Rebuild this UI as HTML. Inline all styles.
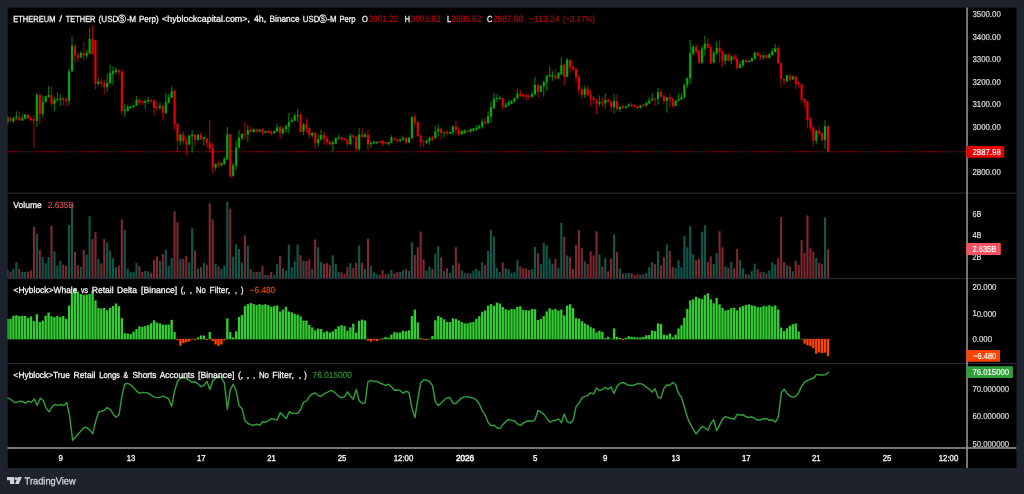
<!DOCTYPE html>
<html><head><meta charset="utf-8"><title>ETHUSDT.P chart</title>
<style>html,body{margin:0;padding:0;background:#1e222d;overflow:hidden}svg{display:block}text{font-family:"Liberation Sans", "DejaVu Sans", sans-serif;white-space:pre}</style>
</head><body>
<svg width="1024" height="494" viewBox="0 0 1024 494">
<rect x="0" y="0" width="1024" height="494" fill="#1e222d"/>
<rect x="7.5" y="7.6" width="1008.9" height="460.4" fill="#000"/>
<line x1="8" y1="151.7" x2="967" y2="151.7" stroke="#b40000" stroke-width="1.15" stroke-dasharray="1.15 0.95"/>
<g id="volume"><rect x="6.51" y="269.69" width="2.1" height="8.31" fill="#0e594c"/><rect x="9.44" y="271.7" width="2.1" height="6.3" fill="#7e2830"/><rect x="12.37" y="268.82" width="2.1" height="9.18" fill="#0e594c"/><rect x="15.3" y="262.17" width="2.1" height="15.83" fill="#0e594c"/><rect x="18.23" y="268.82" width="2.1" height="9.18" fill="#7e2830"/><rect x="21.16" y="271.7" width="2.1" height="6.3" fill="#0e594c"/><rect x="24.09" y="271.95" width="2.1" height="6.05" fill="#0e594c"/><rect x="27.02" y="271.7" width="2.1" height="6.3" fill="#7e2830"/><rect x="29.95" y="270.45" width="2.1" height="7.55" fill="#7e2830"/><rect x="32.88" y="226.78" width="2.1" height="51.22" fill="#7e2830"/><rect x="35.81" y="233.68" width="2.1" height="44.32" fill="#0e594c"/><rect x="38.74" y="249.99" width="2.1" height="28.01" fill="#7e2830"/><rect x="41.67" y="257.15" width="2.1" height="20.85" fill="#0e594c"/><rect x="44.6" y="263.17" width="2.1" height="14.83" fill="#0e594c"/><rect x="47.53" y="257.15" width="2.1" height="20.85" fill="#0e594c"/><rect x="50.46" y="225.78" width="2.1" height="52.22" fill="#7e2830"/><rect x="53.39" y="251.25" width="2.1" height="26.75" fill="#0e594c"/><rect x="56.32" y="265.68" width="2.1" height="12.32" fill="#0e594c"/><rect x="59.25" y="260.66" width="2.1" height="17.34" fill="#0e594c"/><rect x="62.18" y="264.68" width="2.1" height="13.32" fill="#7e2830"/><rect x="65.11" y="265.68" width="2.1" height="12.32" fill="#7e2830"/><rect x="68.04" y="224.9" width="2.1" height="53.1" fill="#0e594c"/><rect x="70.97" y="203.75" width="2.1" height="74.25" fill="#0e594c"/><rect x="73.9" y="251.63" width="2.1" height="26.37" fill="#7e2830"/><rect x="76.83" y="265.05" width="2.1" height="12.95" fill="#7e2830"/><rect x="79.76" y="266.93" width="2.1" height="11.07" fill="#0e594c"/><rect x="82.69" y="249.99" width="2.1" height="28.01" fill="#7e2830"/><rect x="85.62" y="254.64" width="2.1" height="23.36" fill="#0e594c"/><rect x="88.55" y="216.25" width="2.1" height="61.75" fill="#0e594c"/><rect x="91.48" y="239.08" width="2.1" height="38.92" fill="#7e2830"/><rect x="94.41" y="232.05" width="2.1" height="45.95" fill="#7e2830"/><rect x="97.34" y="258.78" width="2.1" height="19.22" fill="#0e594c"/><rect x="100.27" y="263.42" width="2.1" height="14.58" fill="#7e2830"/><rect x="103.2" y="239.08" width="2.1" height="38.92" fill="#7e2830"/><rect x="106.13" y="242.47" width="2.1" height="35.53" fill="#0e594c"/><rect x="109.06" y="250.87" width="2.1" height="27.13" fill="#0e594c"/><rect x="111.99" y="258.15" width="2.1" height="19.85" fill="#0e594c"/><rect x="114.92" y="267.18" width="2.1" height="10.82" fill="#0e594c"/><rect x="117.85" y="265.68" width="2.1" height="12.32" fill="#7e2830"/><rect x="120.78" y="219.25" width="2.1" height="58.75" fill="#7e2830"/><rect x="123.71" y="229.92" width="2.1" height="48.08" fill="#0e594c"/><rect x="126.64" y="268.82" width="2.1" height="9.18" fill="#0e594c"/><rect x="129.57" y="272.2" width="2.1" height="5.8" fill="#0e594c"/><rect x="132.5" y="271.95" width="2.1" height="6.05" fill="#0e594c"/><rect x="135.43" y="262.92" width="2.1" height="15.08" fill="#0e594c"/><rect x="138.36" y="265.93" width="2.1" height="12.07" fill="#7e2830"/><rect x="141.29" y="271.95" width="2.1" height="6.05" fill="#7e2830"/><rect x="144.22" y="270.95" width="2.1" height="7.05" fill="#0e594c"/><rect x="147.15" y="271.32" width="2.1" height="6.68" fill="#0e594c"/><rect x="150.08" y="272.83" width="2.1" height="5.17" fill="#7e2830"/><rect x="153.01" y="260.03" width="2.1" height="17.97" fill="#7e2830"/><rect x="155.94" y="256.27" width="2.1" height="21.73" fill="#7e2830"/><rect x="158.87" y="260.91" width="2.1" height="17.09" fill="#0e594c"/><rect x="161.8" y="254.14" width="2.1" height="23.86" fill="#7e2830"/><rect x="164.73" y="249.99" width="2.1" height="28.01" fill="#0e594c"/><rect x="167.66" y="265.68" width="2.1" height="12.32" fill="#0e594c"/><rect x="170.59" y="257.9" width="2.1" height="20.1" fill="#0e594c"/><rect x="173.52" y="211.25" width="2.1" height="66.75" fill="#7e2830"/><rect x="176.45" y="222.39" width="2.1" height="55.61" fill="#7e2830"/><rect x="179.38" y="258.78" width="2.1" height="19.22" fill="#0e594c"/><rect x="182.31" y="258.78" width="2.1" height="19.22" fill="#7e2830"/><rect x="185.24" y="256.02" width="2.1" height="21.98" fill="#7e2830"/><rect x="188.17" y="262.17" width="2.1" height="15.83" fill="#0e594c"/><rect x="191.1" y="228.29" width="2.1" height="49.71" fill="#0e594c"/><rect x="194.03" y="250.25" width="2.1" height="27.75" fill="#7e2830"/><rect x="196.96" y="268.82" width="2.1" height="9.18" fill="#0e594c"/><rect x="199.89" y="267.18" width="2.1" height="10.82" fill="#7e2830"/><rect x="202.82" y="262.92" width="2.1" height="15.08" fill="#0e594c"/><rect x="205.75" y="264.68" width="2.1" height="13.32" fill="#7e2830"/><rect x="208.68" y="203.25" width="2.1" height="74.75" fill="#7e2830"/><rect x="211.61" y="219.25" width="2.1" height="58.75" fill="#7e2830"/><rect x="214.54" y="264.05" width="2.1" height="13.95" fill="#0e594c"/><rect x="217.47" y="266.31" width="2.1" height="11.69" fill="#7e2830"/><rect x="220.4" y="268.82" width="2.1" height="9.18" fill="#0e594c"/><rect x="223.33" y="265.68" width="2.1" height="12.32" fill="#0e594c"/><rect x="226.26" y="202" width="2.1" height="76" fill="#0e594c"/><rect x="229.19" y="208.75" width="2.1" height="69.25" fill="#7e2830"/><rect x="232.12" y="256.64" width="2.1" height="21.36" fill="#0e594c"/><rect x="235.05" y="244.35" width="2.1" height="33.65" fill="#0e594c"/><rect x="237.98" y="248.99" width="2.1" height="29.01" fill="#0e594c"/><rect x="240.91" y="262.79" width="2.1" height="15.21" fill="#0e594c"/><rect x="243.84" y="235.31" width="2.1" height="42.69" fill="#7e2830"/><rect x="246.77" y="245.98" width="2.1" height="32.02" fill="#0e594c"/><rect x="249.7" y="269.07" width="2.1" height="8.93" fill="#7e2830"/><rect x="252.63" y="272.2" width="2.1" height="5.8" fill="#0e594c"/><rect x="255.56" y="271.95" width="2.1" height="6.05" fill="#7e2830"/><rect x="258.49" y="271.7" width="2.1" height="6.3" fill="#0e594c"/><rect x="261.42" y="266.06" width="2.1" height="11.94" fill="#7e2830"/><rect x="264.35" y="275.09" width="2.1" height="2.91" fill="#0e594c"/><rect x="267.28" y="275.21" width="2.1" height="2.79" fill="#7e2830"/><rect x="270.21" y="271.7" width="2.1" height="6.3" fill="#7e2830"/><rect x="273.14" y="275.09" width="2.1" height="2.91" fill="#0e594c"/><rect x="276.07" y="264.05" width="2.1" height="13.95" fill="#0e594c"/><rect x="279" y="255.89" width="2.1" height="22.11" fill="#7e2830"/><rect x="281.93" y="268.19" width="2.1" height="9.81" fill="#0e594c"/><rect x="284.86" y="270.7" width="2.1" height="7.3" fill="#0e594c"/><rect x="287.79" y="244.73" width="2.1" height="33.27" fill="#0e594c"/><rect x="290.72" y="267.18" width="2.1" height="10.82" fill="#0e594c"/><rect x="293.65" y="261.29" width="2.1" height="16.71" fill="#0e594c"/><rect x="296.58" y="244.73" width="2.1" height="33.27" fill="#0e594c"/><rect x="299.51" y="255.26" width="2.1" height="22.74" fill="#7e2830"/><rect x="302.44" y="260.91" width="2.1" height="17.09" fill="#0e594c"/><rect x="305.37" y="260.91" width="2.1" height="17.09" fill="#7e2830"/><rect x="308.3" y="259.41" width="2.1" height="18.59" fill="#7e2830"/><rect x="311.23" y="268.82" width="2.1" height="9.18" fill="#0e594c"/><rect x="314.16" y="239.33" width="2.1" height="38.67" fill="#7e2830"/><rect x="317.09" y="247.23" width="2.1" height="30.77" fill="#0e594c"/><rect x="320.02" y="261.91" width="2.1" height="16.09" fill="#0e594c"/><rect x="322.95" y="263.55" width="2.1" height="14.45" fill="#7e2830"/><rect x="325.88" y="263.17" width="2.1" height="14.83" fill="#7e2830"/><rect x="328.81" y="265.05" width="2.1" height="12.95" fill="#7e2830"/><rect x="331.74" y="255.26" width="2.1" height="22.74" fill="#0e594c"/><rect x="334.67" y="264.05" width="2.1" height="13.95" fill="#0e594c"/><rect x="337.6" y="271.95" width="2.1" height="6.05" fill="#0e594c"/><rect x="340.53" y="272.2" width="2.1" height="5.8" fill="#7e2830"/><rect x="343.46" y="274.09" width="2.1" height="3.91" fill="#7e2830"/><rect x="346.39" y="266.93" width="2.1" height="11.07" fill="#7e2830"/><rect x="349.32" y="263.17" width="2.1" height="14.83" fill="#0e594c"/><rect x="352.25" y="267.94" width="2.1" height="10.06" fill="#7e2830"/><rect x="355.18" y="262.79" width="2.1" height="15.21" fill="#7e2830"/><rect x="358.11" y="245.6" width="2.1" height="32.4" fill="#0e594c"/><rect x="361.04" y="262.79" width="2.1" height="15.21" fill="#7e2830"/><rect x="363.97" y="269.07" width="2.1" height="8.93" fill="#0e594c"/><rect x="366.9" y="238.7" width="2.1" height="39.3" fill="#7e2830"/><rect x="369.83" y="265.93" width="2.1" height="12.07" fill="#0e594c"/><rect x="372.76" y="272.33" width="2.1" height="5.67" fill="#0e594c"/><rect x="375.69" y="274.21" width="2.1" height="3.79" fill="#0e594c"/><rect x="378.62" y="274.71" width="2.1" height="3.29" fill="#7e2830"/><rect x="381.55" y="270.07" width="2.1" height="7.93" fill="#7e2830"/><rect x="384.48" y="274.09" width="2.1" height="3.91" fill="#7e2830"/><rect x="387.41" y="273.83" width="2.1" height="4.17" fill="#0e594c"/><rect x="390.34" y="269.82" width="2.1" height="8.18" fill="#0e594c"/><rect x="393.27" y="273.21" width="2.1" height="4.79" fill="#7e2830"/><rect x="396.2" y="272.2" width="2.1" height="5.8" fill="#7e2830"/><rect x="399.13" y="271.95" width="2.1" height="6.05" fill="#0e594c"/><rect x="402.06" y="270.07" width="2.1" height="7.93" fill="#0e594c"/><rect x="404.99" y="269.19" width="2.1" height="8.81" fill="#7e2830"/><rect x="407.92" y="270.95" width="2.1" height="7.05" fill="#0e594c"/><rect x="410.85" y="242.47" width="2.1" height="35.53" fill="#0e594c"/><rect x="413.78" y="255.01" width="2.1" height="22.99" fill="#7e2830"/><rect x="416.71" y="247.11" width="2.1" height="30.89" fill="#7e2830"/><rect x="419.64" y="231.55" width="2.1" height="46.45" fill="#7e2830"/><rect x="422.57" y="259.41" width="2.1" height="18.59" fill="#7e2830"/><rect x="425.5" y="270.45" width="2.1" height="7.55" fill="#0e594c"/><rect x="428.43" y="266.31" width="2.1" height="11.69" fill="#0e594c"/><rect x="431.36" y="268.94" width="2.1" height="9.06" fill="#7e2830"/><rect x="434.29" y="253.76" width="2.1" height="24.24" fill="#0e594c"/><rect x="437.22" y="246.23" width="2.1" height="31.77" fill="#0e594c"/><rect x="440.15" y="257.27" width="2.1" height="20.73" fill="#7e2830"/><rect x="443.08" y="271.07" width="2.1" height="6.93" fill="#0e594c"/><rect x="446.01" y="268.19" width="2.1" height="9.81" fill="#7e2830"/><rect x="448.94" y="272.83" width="2.1" height="5.17" fill="#0e594c"/><rect x="451.87" y="265.3" width="2.1" height="12.7" fill="#0e594c"/><rect x="454.8" y="247.23" width="2.1" height="30.77" fill="#7e2830"/><rect x="457.73" y="263.17" width="2.1" height="14.83" fill="#7e2830"/><rect x="460.66" y="270.45" width="2.1" height="7.55" fill="#0e594c"/><rect x="463.59" y="272.96" width="2.1" height="5.04" fill="#0e594c"/><rect x="466.52" y="273.21" width="2.1" height="4.79" fill="#7e2830"/><rect x="469.45" y="273.46" width="2.1" height="4.54" fill="#0e594c"/><rect x="472.38" y="270.7" width="2.1" height="7.3" fill="#0e594c"/><rect x="475.31" y="268.82" width="2.1" height="9.18" fill="#0e594c"/><rect x="478.24" y="270.95" width="2.1" height="7.05" fill="#0e594c"/><rect x="481.17" y="262.29" width="2.1" height="15.71" fill="#0e594c"/><rect x="484.1" y="265.05" width="2.1" height="12.95" fill="#7e2830"/><rect x="487.03" y="251" width="2.1" height="27" fill="#0e594c"/><rect x="489.96" y="229.92" width="2.1" height="48.08" fill="#0e594c"/><rect x="492.89" y="236.44" width="2.1" height="41.56" fill="#0e594c"/><rect x="495.82" y="267.81" width="2.1" height="10.19" fill="#0e594c"/><rect x="498.75" y="271.95" width="2.1" height="6.05" fill="#0e594c"/><rect x="501.68" y="262.29" width="2.1" height="15.71" fill="#7e2830"/><rect x="504.61" y="268.19" width="2.1" height="9.81" fill="#0e594c"/><rect x="507.54" y="269.44" width="2.1" height="8.56" fill="#0e594c"/><rect x="510.47" y="273.21" width="2.1" height="4.79" fill="#0e594c"/><rect x="513.4" y="272.2" width="2.1" height="5.8" fill="#0e594c"/><rect x="516.33" y="260.28" width="2.1" height="17.72" fill="#0e594c"/><rect x="519.26" y="266.56" width="2.1" height="11.44" fill="#7e2830"/><rect x="522.19" y="268.19" width="2.1" height="9.81" fill="#7e2830"/><rect x="525.12" y="268.44" width="2.1" height="9.56" fill="#7e2830"/><rect x="528.05" y="269.82" width="2.1" height="8.18" fill="#7e2830"/><rect x="530.98" y="269.19" width="2.1" height="8.81" fill="#0e594c"/><rect x="533.91" y="246.86" width="2.1" height="31.14" fill="#0e594c"/><rect x="536.84" y="253.13" width="2.1" height="24.87" fill="#7e2830"/><rect x="539.77" y="264.17" width="2.1" height="13.83" fill="#0e594c"/><rect x="542.7" y="243.09" width="2.1" height="34.91" fill="#0e594c"/><rect x="545.63" y="245.23" width="2.1" height="32.77" fill="#0e594c"/><rect x="548.56" y="258.4" width="2.1" height="19.6" fill="#0e594c"/><rect x="551.49" y="263.8" width="2.1" height="14.2" fill="#0e594c"/><rect x="554.42" y="258.78" width="2.1" height="19.22" fill="#7e2830"/><rect x="557.35" y="267.81" width="2.1" height="10.19" fill="#0e594c"/><rect x="560.28" y="223.02" width="2.1" height="54.98" fill="#0e594c"/><rect x="563.21" y="236.82" width="2.1" height="41.18" fill="#7e2830"/><rect x="566.14" y="255.39" width="2.1" height="22.61" fill="#0e594c"/><rect x="569.07" y="257.27" width="2.1" height="20.73" fill="#7e2830"/><rect x="572" y="269.07" width="2.1" height="8.93" fill="#7e2830"/><rect x="574.93" y="244.73" width="2.1" height="33.27" fill="#7e2830"/><rect x="577.86" y="230.17" width="2.1" height="47.83" fill="#7e2830"/><rect x="580.79" y="248.11" width="2.1" height="29.89" fill="#7e2830"/><rect x="583.72" y="261.29" width="2.1" height="16.71" fill="#0e594c"/><rect x="586.65" y="264.17" width="2.1" height="13.83" fill="#7e2830"/><rect x="589.58" y="251.25" width="2.1" height="26.75" fill="#7e2830"/><rect x="592.51" y="255.39" width="2.1" height="22.61" fill="#7e2830"/><rect x="595.44" y="231.17" width="2.1" height="46.83" fill="#7e2830"/><rect x="598.37" y="254.39" width="2.1" height="23.61" fill="#0e594c"/><rect x="601.3" y="266.56" width="2.1" height="11.44" fill="#7e2830"/><rect x="604.23" y="258.15" width="2.1" height="19.85" fill="#0e594c"/><rect x="607.16" y="271.32" width="2.1" height="6.68" fill="#7e2830"/><rect x="610.09" y="258.4" width="2.1" height="19.6" fill="#7e2830"/><rect x="613.02" y="234.56" width="2.1" height="43.44" fill="#0e594c"/><rect x="615.95" y="251.88" width="2.1" height="26.12" fill="#7e2830"/><rect x="618.88" y="268.44" width="2.1" height="9.56" fill="#0e594c"/><rect x="621.81" y="273.46" width="2.1" height="4.54" fill="#7e2830"/><rect x="624.74" y="273.46" width="2.1" height="4.54" fill="#0e594c"/><rect x="627.67" y="272.83" width="2.1" height="5.17" fill="#0e594c"/><rect x="630.6" y="273.21" width="2.1" height="4.79" fill="#7e2830"/><rect x="633.53" y="275.34" width="2.1" height="2.66" fill="#7e2830"/><rect x="636.46" y="274.21" width="2.1" height="3.79" fill="#7e2830"/><rect x="639.39" y="274.71" width="2.1" height="3.29" fill="#0e594c"/><rect x="642.32" y="274.21" width="2.1" height="3.79" fill="#7e2830"/><rect x="645.25" y="272.96" width="2.1" height="5.04" fill="#0e594c"/><rect x="648.18" y="267.18" width="2.1" height="10.82" fill="#0e594c"/><rect x="651.11" y="262.17" width="2.1" height="15.83" fill="#0e594c"/><rect x="654.04" y="264.05" width="2.1" height="13.95" fill="#7e2830"/><rect x="656.97" y="251.25" width="2.1" height="26.75" fill="#0e594c"/><rect x="659.9" y="265.3" width="2.1" height="12.7" fill="#7e2830"/><rect x="662.83" y="257.15" width="2.1" height="20.85" fill="#7e2830"/><rect x="665.76" y="244.35" width="2.1" height="33.65" fill="#0e594c"/><rect x="668.69" y="250.87" width="2.1" height="27.13" fill="#7e2830"/><rect x="671.62" y="266.93" width="2.1" height="11.07" fill="#7e2830"/><rect x="674.55" y="267.94" width="2.1" height="10.06" fill="#0e594c"/><rect x="677.48" y="260.28" width="2.1" height="17.72" fill="#0e594c"/><rect x="680.41" y="267.18" width="2.1" height="10.82" fill="#0e594c"/><rect x="683.34" y="235.82" width="2.1" height="42.18" fill="#0e594c"/><rect x="686.27" y="247.23" width="2.1" height="30.77" fill="#0e594c"/><rect x="689.2" y="226.16" width="2.1" height="51.84" fill="#0e594c"/><rect x="692.13" y="254.39" width="2.1" height="23.61" fill="#0e594c"/><rect x="695.06" y="260.28" width="2.1" height="17.72" fill="#7e2830"/><rect x="697.99" y="258.78" width="2.1" height="19.22" fill="#7e2830"/><rect x="700.92" y="231.8" width="2.1" height="46.2" fill="#0e594c"/><rect x="703.85" y="225.15" width="2.1" height="52.85" fill="#0e594c"/><rect x="706.78" y="261.91" width="2.1" height="16.09" fill="#7e2830"/><rect x="709.71" y="256.27" width="2.1" height="21.73" fill="#7e2830"/><rect x="712.64" y="264.17" width="2.1" height="13.83" fill="#0e594c"/><rect x="715.57" y="253.13" width="2.1" height="24.87" fill="#0e594c"/><rect x="718.5" y="231.17" width="2.1" height="46.83" fill="#7e2830"/><rect x="721.43" y="247.23" width="2.1" height="30.77" fill="#7e2830"/><rect x="724.36" y="266.56" width="2.1" height="11.44" fill="#0e594c"/><rect x="727.29" y="267.81" width="2.1" height="10.19" fill="#7e2830"/><rect x="730.22" y="261.91" width="2.1" height="16.09" fill="#0e594c"/><rect x="733.15" y="268.44" width="2.1" height="9.56" fill="#7e2830"/><rect x="736.08" y="248.99" width="2.1" height="29.01" fill="#7e2830"/><rect x="739.01" y="260.28" width="2.1" height="17.72" fill="#0e594c"/><rect x="741.94" y="268.44" width="2.1" height="9.56" fill="#0e594c"/><rect x="744.87" y="274.09" width="2.1" height="3.91" fill="#7e2830"/><rect x="747.8" y="274.84" width="2.1" height="3.16" fill="#0e594c"/><rect x="750.73" y="271.07" width="2.1" height="6.93" fill="#0e594c"/><rect x="753.66" y="263.55" width="2.1" height="14.45" fill="#0e594c"/><rect x="756.59" y="269.19" width="2.1" height="8.81" fill="#7e2830"/><rect x="759.52" y="272.33" width="2.1" height="5.67" fill="#7e2830"/><rect x="762.45" y="271.7" width="2.1" height="6.3" fill="#0e594c"/><rect x="765.38" y="273.46" width="2.1" height="4.54" fill="#7e2830"/><rect x="768.31" y="270.45" width="2.1" height="7.55" fill="#0e594c"/><rect x="771.24" y="262.29" width="2.1" height="15.71" fill="#0e594c"/><rect x="774.17" y="264.42" width="2.1" height="13.58" fill="#0e594c"/><rect x="777.1" y="258.15" width="2.1" height="19.85" fill="#7e2830"/><rect x="780.03" y="217" width="2.1" height="61" fill="#7e2830"/><rect x="782.96" y="262.17" width="2.1" height="15.83" fill="#7e2830"/><rect x="785.89" y="265.05" width="2.1" height="12.95" fill="#0e594c"/><rect x="788.82" y="266.31" width="2.1" height="11.69" fill="#7e2830"/><rect x="791.75" y="271.32" width="2.1" height="6.68" fill="#0e594c"/><rect x="794.68" y="260.66" width="2.1" height="17.34" fill="#7e2830"/><rect x="797.61" y="265.05" width="2.1" height="12.95" fill="#7e2830"/><rect x="800.54" y="240.21" width="2.1" height="37.79" fill="#7e2830"/><rect x="803.47" y="252.76" width="2.1" height="25.24" fill="#7e2830"/><rect x="806.4" y="215.5" width="2.1" height="62.5" fill="#7e2830"/><rect x="809.33" y="248.11" width="2.1" height="29.89" fill="#7e2830"/><rect x="812.26" y="251.5" width="2.1" height="26.5" fill="#7e2830"/><rect x="815.19" y="257.9" width="2.1" height="20.1" fill="#0e594c"/><rect x="818.12" y="262.92" width="2.1" height="15.08" fill="#7e2830"/><rect x="821.05" y="264.05" width="2.1" height="13.95" fill="#7e2830"/><rect x="823.98" y="217.5" width="2.1" height="60.5" fill="#0e594c"/><rect x="826.91" y="249.37" width="2.1" height="28.63" fill="#7e2830"/></g>
<g id="candles"><g opacity="0.68"><rect x="6.96" y="116.42" width="1.2" height="7.53" fill="#00ad00"/><rect x="9.89" y="117.43" width="1.2" height="4.02" fill="#ea0000"/><rect x="12.82" y="117.43" width="1.2" height="5.9" fill="#00ad00"/><rect x="15.75" y="111.15" width="1.2" height="9.03" fill="#00ad00"/><rect x="18.68" y="112.03" width="1.2" height="8.78" fill="#ea0000"/><rect x="21.61" y="114.17" width="1.2" height="6.65" fill="#00ad00"/><rect x="24.54" y="113.91" width="1.2" height="5.27" fill="#00ad00"/><rect x="27.47" y="113.66" width="1.2" height="5.52" fill="#ea0000"/><rect x="30.4" y="117.05" width="1.2" height="4.14" fill="#ea0000"/><rect x="33.33" y="114.92" width="1.2" height="32.87" fill="#ea0000"/><rect x="36.26" y="92.84" width="1.2" height="33.88" fill="#00ad00"/><rect x="39.19" y="93.84" width="1.2" height="30.11" fill="#ea0000"/><rect x="42.12" y="96.35" width="1.2" height="21.08" fill="#00ad00"/><rect x="45.05" y="95.72" width="1.2" height="6.65" fill="#00ad00"/><rect x="47.98" y="86.06" width="1.2" height="11.79" fill="#00ad00"/><rect x="50.91" y="86.31" width="1.2" height="20.7" fill="#ea0000"/><rect x="53.84" y="96.98" width="1.2" height="14.43" fill="#00ad00"/><rect x="56.77" y="92.33" width="1.2" height="9.03" fill="#00ad00"/><rect x="59.7" y="94.47" width="1.2" height="11.92" fill="#00ad00"/><rect x="62.63" y="96.98" width="1.2" height="8.78" fill="#ea0000"/><rect x="65.56" y="96.98" width="1.2" height="9.16" fill="#ea0000"/><rect x="68.49" y="68.37" width="1.2" height="36.51" fill="#00ad00"/><rect x="71.42" y="36.69" width="1.2" height="34.76" fill="#00ad00"/><rect x="74.35" y="44.84" width="1.2" height="17.57" fill="#ea0000"/><rect x="77.28" y="52.37" width="1.2" height="9.28" fill="#ea0000"/><rect x="80.21" y="51.12" width="1.2" height="6.52" fill="#00ad00"/><rect x="83.14" y="41.96" width="1.2" height="17.94" fill="#ea0000"/><rect x="86.07" y="50.11" width="1.2" height="8.16" fill="#00ad00"/><rect x="89" y="27.78" width="1.2" height="26.35" fill="#00ad00"/><rect x="91.93" y="25.9" width="1.2" height="28.98" fill="#ea0000"/><rect x="94.86" y="39.89" width="1.2" height="49.56" fill="#ea0000"/><rect x="97.79" y="78.16" width="1.2" height="7.53" fill="#00ad00"/><rect x="100.72" y="78.78" width="1.2" height="8.16" fill="#ea0000"/><rect x="103.65" y="79.41" width="1.2" height="15.06" fill="#ea0000"/><rect x="106.58" y="73.76" width="1.2" height="18.19" fill="#00ad00"/><rect x="109.51" y="64.98" width="1.2" height="18.57" fill="#00ad00"/><rect x="112.44" y="66.49" width="1.2" height="18.57" fill="#00ad00"/><rect x="115.37" y="66.86" width="1.2" height="7.53" fill="#00ad00"/><rect x="118.3" y="69" width="1.2" height="6.02" fill="#ea0000"/><rect x="121.23" y="69.37" width="1.2" height="46.05" fill="#ea0000"/><rect x="124.16" y="104.13" width="1.2" height="12.92" fill="#00ad00"/><rect x="127.09" y="104.98" width="1.2" height="6.65" fill="#00ad00"/><rect x="130.02" y="105.85" width="1.2" height="2.89" fill="#00ad00"/><rect x="132.95" y="104.98" width="1.2" height="2.89" fill="#00ad00"/><rect x="135.88" y="96.19" width="1.2" height="9.66" fill="#00ad00"/><rect x="138.81" y="98.08" width="1.2" height="7.28" fill="#ea0000"/><rect x="141.74" y="100.33" width="1.2" height="4.64" fill="#ea0000"/><rect x="144.67" y="99.33" width="1.2" height="10.04" fill="#00ad00"/><rect x="147.6" y="97.07" width="1.2" height="6.65" fill="#00ad00"/><rect x="150.53" y="99.08" width="1.2" height="4.02" fill="#ea0000"/><rect x="153.46" y="99.58" width="1.2" height="16.06" fill="#ea0000"/><rect x="156.39" y="101.84" width="1.2" height="8.78" fill="#ea0000"/><rect x="159.32" y="102.47" width="1.2" height="7.53" fill="#00ad00"/><rect x="162.25" y="104.6" width="1.2" height="16.31" fill="#ea0000"/><rect x="165.18" y="92.81" width="1.2" height="20.95" fill="#00ad00"/><rect x="168.11" y="94.06" width="1.2" height="9.03" fill="#00ad00"/><rect x="171.04" y="86.53" width="1.2" height="11.79" fill="#00ad00"/><rect x="173.97" y="90.01" width="1.2" height="39.52" fill="#ea0000"/><rect x="176.9" y="122.63" width="1.2" height="29.23" fill="#ea0000"/><rect x="179.83" y="133.54" width="1.2" height="12.05" fill="#00ad00"/><rect x="182.76" y="131.41" width="1.2" height="13.17" fill="#ea0000"/><rect x="185.69" y="137.68" width="1.2" height="18.19" fill="#ea0000"/><rect x="188.62" y="134.55" width="1.2" height="10.66" fill="#00ad00"/><rect x="191.55" y="130.16" width="1.2" height="22.58" fill="#00ad00"/><rect x="194.48" y="133.92" width="1.2" height="12.55" fill="#ea0000"/><rect x="197.41" y="133.92" width="1.2" height="6.9" fill="#00ad00"/><rect x="200.34" y="132.04" width="1.2" height="8.78" fill="#ea0000"/><rect x="203.27" y="136.81" width="1.2" height="9.28" fill="#00ad00"/><rect x="206.2" y="137.68" width="1.2" height="10.04" fill="#ea0000"/><rect x="209.13" y="119.99" width="1.2" height="32.75" fill="#ea0000"/><rect x="212.06" y="143.33" width="1.2" height="30.36" fill="#ea0000"/><rect x="214.99" y="163.15" width="1.2" height="7.53" fill="#00ad00"/><rect x="217.92" y="160.9" width="1.2" height="6.52" fill="#ea0000"/><rect x="220.85" y="162.15" width="1.2" height="4.77" fill="#00ad00"/><rect x="223.78" y="157.13" width="1.2" height="7.53" fill="#00ad00"/><rect x="226.71" y="127.02" width="1.2" height="32.87" fill="#00ad00"/><rect x="229.64" y="133.54" width="1.2" height="44.29" fill="#ea0000"/><rect x="232.57" y="162.78" width="1.2" height="13.8" fill="#00ad00"/><rect x="235.5" y="140.82" width="1.2" height="29.11" fill="#00ad00"/><rect x="238.43" y="129.78" width="1.2" height="18.32" fill="#00ad00"/><rect x="241.36" y="133.04" width="1.2" height="7.78" fill="#00ad00"/><rect x="244.29" y="122" width="1.2" height="17.82" fill="#ea0000"/><rect x="247.22" y="124.76" width="1.2" height="17.06" fill="#00ad00"/><rect x="250.15" y="125.76" width="1.2" height="6.9" fill="#ea0000"/><rect x="253.08" y="128.52" width="1.2" height="4.14" fill="#00ad00"/><rect x="256.01" y="128.74" width="1.2" height="4.14" fill="#ea0000"/><rect x="258.94" y="129.12" width="1.2" height="3.01" fill="#00ad00"/><rect x="261.87" y="128.11" width="1.2" height="6.52" fill="#ea0000"/><rect x="264.8" y="130.87" width="1.2" height="2.26" fill="#00ad00"/><rect x="267.73" y="129.99" width="1.2" height="3.14" fill="#ea0000"/><rect x="270.66" y="130.87" width="1.2" height="4.77" fill="#ea0000"/><rect x="273.59" y="130.37" width="1.2" height="3.39" fill="#00ad00"/><rect x="276.52" y="123.72" width="1.2" height="8.41" fill="#00ad00"/><rect x="279.45" y="125.6" width="1.2" height="13.55" fill="#ea0000"/><rect x="282.38" y="127.11" width="1.2" height="7.03" fill="#00ad00"/><rect x="285.31" y="124.1" width="1.2" height="9.03" fill="#00ad00"/><rect x="288.24" y="113.06" width="1.2" height="20.7" fill="#00ad00"/><rect x="291.17" y="117.45" width="1.2" height="5.02" fill="#00ad00"/><rect x="294.1" y="113.68" width="1.2" height="7.53" fill="#00ad00"/><rect x="297.03" y="109.04" width="1.2" height="12.8" fill="#00ad00"/><rect x="299.96" y="113.06" width="1.2" height="19.45" fill="#ea0000"/><rect x="302.89" y="123.09" width="1.2" height="11.92" fill="#00ad00"/><rect x="305.82" y="118.7" width="1.2" height="14.43" fill="#ea0000"/><rect x="308.75" y="126.86" width="1.2" height="11.92" fill="#ea0000"/><rect x="311.68" y="132.13" width="1.2" height="5.4" fill="#00ad00"/><rect x="314.61" y="132.5" width="1.2" height="16.31" fill="#ea0000"/><rect x="317.54" y="134.39" width="1.2" height="12.55" fill="#00ad00"/><rect x="320.47" y="129.37" width="1.2" height="11.04" fill="#00ad00"/><rect x="323.4" y="131.63" width="1.2" height="13.05" fill="#ea0000"/><rect x="326.33" y="136.27" width="1.2" height="9.16" fill="#ea0000"/><rect x="329.26" y="140.41" width="1.2" height="5.9" fill="#ea0000"/><rect x="332.19" y="140.91" width="1.2" height="10.79" fill="#00ad00"/><rect x="335.12" y="136.9" width="1.2" height="7.53" fill="#00ad00"/><rect x="338.05" y="135.01" width="1.2" height="4.39" fill="#00ad00"/><rect x="340.98" y="136.27" width="1.2" height="4.64" fill="#ea0000"/><rect x="343.91" y="138.15" width="1.2" height="2.51" fill="#ea0000"/><rect x="346.84" y="138.78" width="1.2" height="7.53" fill="#ea0000"/><rect x="349.77" y="133.38" width="1.2" height="11.67" fill="#00ad00"/><rect x="352.7" y="134.14" width="1.2" height="5.27" fill="#ea0000"/><rect x="355.63" y="136.27" width="1.2" height="15.06" fill="#ea0000"/><rect x="358.56" y="127.86" width="1.2" height="22.84" fill="#00ad00"/><rect x="361.49" y="128.11" width="1.2" height="9.41" fill="#ea0000"/><rect x="364.42" y="131.88" width="1.2" height="5.65" fill="#00ad00"/><rect x="367.35" y="129.99" width="1.2" height="20.7" fill="#ea0000"/><rect x="370.28" y="141.29" width="1.2" height="6.27" fill="#00ad00"/><rect x="373.21" y="140.41" width="1.2" height="3.76" fill="#00ad00"/><rect x="376.14" y="141.29" width="1.2" height="2.89" fill="#00ad00"/><rect x="379.07" y="140.66" width="1.2" height="2.26" fill="#ea0000"/><rect x="382" y="140.03" width="1.2" height="5.9" fill="#ea0000"/><rect x="384.93" y="141.66" width="1.2" height="2.13" fill="#ea0000"/><rect x="387.86" y="141.66" width="1.2" height="4.02" fill="#00ad00"/><rect x="390.79" y="135.39" width="1.2" height="7.53" fill="#00ad00"/><rect x="393.72" y="137.52" width="1.2" height="2.51" fill="#ea0000"/><rect x="396.65" y="138.4" width="1.2" height="4.77" fill="#ea0000"/><rect x="399.58" y="138.4" width="1.2" height="3.76" fill="#00ad00"/><rect x="402.51" y="135.39" width="1.2" height="5.27" fill="#00ad00"/><rect x="405.44" y="137.15" width="1.2" height="7.03" fill="#ea0000"/><rect x="408.37" y="136.9" width="1.2" height="6.27" fill="#00ad00"/><rect x="411.3" y="116.19" width="1.2" height="22.96" fill="#00ad00"/><rect x="414.23" y="114.06" width="1.2" height="12.17" fill="#ea0000"/><rect x="417.16" y="121.21" width="1.2" height="15.68" fill="#ea0000"/><rect x="420.09" y="134.64" width="1.2" height="12.3" fill="#ea0000"/><rect x="423.02" y="139.15" width="1.2" height="7.53" fill="#ea0000"/><rect x="425.95" y="139.41" width="1.2" height="4.39" fill="#00ad00"/><rect x="428.88" y="136.27" width="1.2" height="8.78" fill="#00ad00"/><rect x="431.81" y="135.64" width="1.2" height="5.65" fill="#ea0000"/><rect x="434.74" y="125.85" width="1.2" height="12.92" fill="#00ad00"/><rect x="437.67" y="124.35" width="1.2" height="11.92" fill="#00ad00"/><rect x="440.6" y="127.86" width="1.2" height="11.79" fill="#ea0000"/><rect x="443.53" y="131.88" width="1.2" height="5.27" fill="#00ad00"/><rect x="446.46" y="129.99" width="1.2" height="5.4" fill="#ea0000"/><rect x="449.39" y="131.25" width="1.2" height="2.89" fill="#00ad00"/><rect x="452.32" y="125.6" width="1.2" height="9.41" fill="#00ad00"/><rect x="455.25" y="120.33" width="1.2" height="14.05" fill="#ea0000"/><rect x="458.18" y="127.49" width="1.2" height="8.16" fill="#ea0000"/><rect x="461.11" y="129.99" width="1.2" height="5.02" fill="#00ad00"/><rect x="464.04" y="129.12" width="1.2" height="4.64" fill="#00ad00"/><rect x="466.97" y="129.99" width="1.2" height="2.51" fill="#ea0000"/><rect x="469.9" y="128.36" width="1.2" height="4.14" fill="#00ad00"/><rect x="472.83" y="127.86" width="1.2" height="3.76" fill="#00ad00"/><rect x="475.76" y="124.98" width="1.2" height="6.27" fill="#00ad00"/><rect x="478.69" y="124.6" width="1.2" height="4.77" fill="#00ad00"/><rect x="481.62" y="118.7" width="1.2" height="10.04" fill="#00ad00"/><rect x="484.55" y="118.08" width="1.2" height="6.9" fill="#ea0000"/><rect x="487.48" y="111.17" width="1.2" height="12.55" fill="#00ad00"/><rect x="490.41" y="101.51" width="1.2" height="20.95" fill="#00ad00"/><rect x="493.34" y="92.78" width="1.2" height="16.31" fill="#00ad00"/><rect x="496.27" y="94.03" width="1.2" height="7.9" fill="#00ad00"/><rect x="499.2" y="95.66" width="1.2" height="4.02" fill="#00ad00"/><rect x="502.13" y="97.8" width="1.2" height="11.92" fill="#ea0000"/><rect x="505.06" y="101.94" width="1.2" height="5.9" fill="#00ad00"/><rect x="507.99" y="100.31" width="1.2" height="5.4" fill="#00ad00"/><rect x="510.92" y="99.93" width="1.2" height="4.52" fill="#00ad00"/><rect x="513.85" y="97.42" width="1.2" height="4.77" fill="#00ad00"/><rect x="516.78" y="89.01" width="1.2" height="9.66" fill="#00ad00"/><rect x="519.71" y="89.89" width="1.2" height="7.03" fill="#ea0000"/><rect x="522.64" y="93.15" width="1.2" height="5.52" fill="#ea0000"/><rect x="525.57" y="94.03" width="1.2" height="6.65" fill="#ea0000"/><rect x="528.5" y="94.41" width="1.2" height="5.27" fill="#ea0000"/><rect x="531.43" y="91.52" width="1.2" height="5.9" fill="#00ad00"/><rect x="534.36" y="76.84" width="1.2" height="18.07" fill="#00ad00"/><rect x="537.29" y="84.37" width="1.2" height="12.55" fill="#ea0000"/><rect x="540.22" y="85.25" width="1.2" height="7.15" fill="#00ad00"/><rect x="543.15" y="80.61" width="1.2" height="15.93" fill="#00ad00"/><rect x="546.08" y="74.58" width="1.2" height="16.31" fill="#00ad00"/><rect x="549.01" y="66.43" width="1.2" height="10.66" fill="#00ad00"/><rect x="551.94" y="71.07" width="1.2" height="9.79" fill="#00ad00"/><rect x="554.87" y="68.94" width="1.2" height="10.04" fill="#ea0000"/><rect x="557.8" y="71.82" width="1.2" height="6.78" fill="#00ad00"/><rect x="560.73" y="57.02" width="1.2" height="17.82" fill="#00ad00"/><rect x="563.66" y="63.92" width="1.2" height="21.71" fill="#ea0000"/><rect x="566.59" y="58.02" width="1.2" height="19.07" fill="#00ad00"/><rect x="569.52" y="59.53" width="1.2" height="13.17" fill="#ea0000"/><rect x="572.45" y="65.17" width="1.2" height="5.9" fill="#ea0000"/><rect x="575.38" y="67.68" width="1.2" height="15.06" fill="#ea0000"/><rect x="578.31" y="75.21" width="1.2" height="19.2" fill="#ea0000"/><rect x="581.24" y="86.5" width="1.2" height="12.17" fill="#ea0000"/><rect x="584.17" y="85.63" width="1.2" height="12.17" fill="#00ad00"/><rect x="587.1" y="85.25" width="1.2" height="10.92" fill="#ea0000"/><rect x="590.03" y="90.27" width="1.2" height="16.31" fill="#ea0000"/><rect x="592.96" y="95.91" width="1.2" height="8.78" fill="#ea0000"/><rect x="595.89" y="99.43" width="1.2" height="14.55" fill="#ea0000"/><rect x="598.82" y="95.29" width="1.2" height="11.29" fill="#00ad00"/><rect x="601.75" y="97.42" width="1.2" height="9.54" fill="#ea0000"/><rect x="604.68" y="93.15" width="1.2" height="15.31" fill="#00ad00"/><rect x="607.61" y="98.42" width="1.2" height="4.02" fill="#ea0000"/><rect x="610.54" y="100.93" width="1.2" height="10.66" fill="#ea0000"/><rect x="613.47" y="94.37" width="1.2" height="19.07" fill="#00ad00"/><rect x="616.4" y="93.99" width="1.2" height="17.57" fill="#ea0000"/><rect x="619.33" y="105.91" width="1.2" height="6.02" fill="#00ad00"/><rect x="622.26" y="105.29" width="1.2" height="3.39" fill="#ea0000"/><rect x="625.19" y="105.66" width="1.2" height="3.39" fill="#00ad00"/><rect x="628.12" y="103.15" width="1.2" height="3.76" fill="#00ad00"/><rect x="631.05" y="103.41" width="1.2" height="3.51" fill="#ea0000"/><rect x="633.98" y="104.66" width="1.2" height="2.26" fill="#ea0000"/><rect x="636.91" y="105.66" width="1.2" height="3.39" fill="#ea0000"/><rect x="639.84" y="104.91" width="1.2" height="3.26" fill="#00ad00"/><rect x="642.77" y="104.03" width="1.2" height="2.89" fill="#ea0000"/><rect x="645.7" y="101.9" width="1.2" height="4.27" fill="#00ad00"/><rect x="648.63" y="97.13" width="1.2" height="6.9" fill="#00ad00"/><rect x="651.56" y="93.12" width="1.2" height="8.03" fill="#00ad00"/><rect x="654.49" y="97.76" width="1.2" height="8.41" fill="#ea0000"/><rect x="657.42" y="87.72" width="1.2" height="17.19" fill="#00ad00"/><rect x="660.35" y="88.98" width="1.2" height="8.16" fill="#ea0000"/><rect x="663.28" y="93.62" width="1.2" height="10.41" fill="#ea0000"/><rect x="666.21" y="96.88" width="1.2" height="15.93" fill="#00ad00"/><rect x="669.14" y="93.37" width="1.2" height="14.05" fill="#ea0000"/><rect x="672.07" y="98.14" width="1.2" height="9.28" fill="#ea0000"/><rect x="675" y="99.89" width="1.2" height="6.27" fill="#00ad00"/><rect x="677.93" y="93.62" width="1.2" height="7.9" fill="#00ad00"/><rect x="680.86" y="93.12" width="1.2" height="6.78" fill="#00ad00"/><rect x="683.79" y="83.96" width="1.2" height="13.8" fill="#00ad00"/><rect x="686.72" y="77.31" width="1.2" height="10.79" fill="#00ad00"/><rect x="689.65" y="39.92" width="1.2" height="43.91" fill="#00ad00"/><rect x="692.58" y="44.94" width="1.2" height="10.66" fill="#00ad00"/><rect x="695.51" y="44.06" width="1.2" height="10.04" fill="#ea0000"/><rect x="698.44" y="49.96" width="1.2" height="13.43" fill="#ea0000"/><rect x="701.37" y="45.57" width="1.2" height="17.82" fill="#00ad00"/><rect x="704.3" y="35.78" width="1.2" height="19.82" fill="#00ad00"/><rect x="707.23" y="38.04" width="1.2" height="10.29" fill="#ea0000"/><rect x="710.16" y="46.57" width="1.2" height="17.57" fill="#ea0000"/><rect x="713.09" y="51.21" width="1.2" height="11.92" fill="#00ad00"/><rect x="716.02" y="41.17" width="1.2" height="13.43" fill="#00ad00"/><rect x="718.95" y="39.92" width="1.2" height="22.58" fill="#ea0000"/><rect x="721.88" y="50.58" width="1.2" height="16.06" fill="#ea0000"/><rect x="724.81" y="53.72" width="1.2" height="10.92" fill="#00ad00"/><rect x="727.74" y="53.09" width="1.2" height="8.16" fill="#ea0000"/><rect x="730.67" y="54.98" width="1.2" height="9.66" fill="#00ad00"/><rect x="733.6" y="54.1" width="1.2" height="6.27" fill="#ea0000"/><rect x="736.53" y="54.98" width="1.2" height="15.06" fill="#ea0000"/><rect x="739.46" y="61.25" width="1.2" height="7.15" fill="#00ad00"/><rect x="742.39" y="59.12" width="1.2" height="8.03" fill="#00ad00"/><rect x="745.32" y="59.62" width="1.2" height="3.26" fill="#ea0000"/><rect x="748.25" y="60.37" width="1.2" height="2.13" fill="#00ad00"/><rect x="751.18" y="57.49" width="1.2" height="4.39" fill="#00ad00"/><rect x="754.11" y="52.09" width="1.2" height="7.03" fill="#00ad00"/><rect x="757.04" y="51.84" width="1.2" height="4.39" fill="#ea0000"/><rect x="759.97" y="54.6" width="1.2" height="5.4" fill="#ea0000"/><rect x="762.9" y="54.35" width="1.2" height="5.65" fill="#00ad00"/><rect x="765.83" y="54.6" width="1.2" height="3.76" fill="#ea0000"/><rect x="768.76" y="53.09" width="1.2" height="5.27" fill="#00ad00"/><rect x="771.69" y="48.08" width="1.2" height="7.53" fill="#00ad00"/><rect x="774.62" y="43.68" width="1.2" height="8.78" fill="#00ad00"/><rect x="777.55" y="46.19" width="1.2" height="17.94" fill="#ea0000"/><rect x="780.48" y="62.76" width="1.2" height="24.22" fill="#ea0000"/><rect x="783.41" y="78.19" width="1.2" height="6.65" fill="#ea0000"/><rect x="786.34" y="74.43" width="1.2" height="7.9" fill="#00ad00"/><rect x="789.27" y="73.17" width="1.2" height="8.41" fill="#ea0000"/><rect x="792.2" y="75.68" width="1.2" height="4.39" fill="#00ad00"/><rect x="795.13" y="75.68" width="1.2" height="13.43" fill="#ea0000"/><rect x="798.06" y="81.33" width="1.2" height="6.02" fill="#ea0000"/><rect x="800.99" y="83.59" width="1.2" height="19.07" fill="#ea0000"/><rect x="803.92" y="98.75" width="1.2" height="9.03" fill="#ea0000"/><rect x="806.85" y="100.63" width="1.2" height="27.98" fill="#ea0000"/><rect x="809.78" y="117.31" width="1.2" height="14.05" fill="#ea0000"/><rect x="812.71" y="125.09" width="1.2" height="21.58" fill="#ea0000"/><rect x="815.64" y="129.86" width="1.2" height="14.68" fill="#00ad00"/><rect x="818.57" y="126.1" width="1.2" height="8.41" fill="#ea0000"/><rect x="821.5" y="131.99" width="1.2" height="9.16" fill="#ea0000"/><rect x="824.43" y="120.33" width="1.2" height="28.61" fill="#00ad00"/><rect x="827.36" y="125.6" width="1.2" height="26.6" fill="#ea0000"/></g><rect x="6.51" y="117.05" width="2.1" height="5.4" fill="#00ad00"/><rect x="9.44" y="117.68" width="2.1" height="3.51" fill="#ea0000"/><rect x="12.37" y="117.68" width="2.1" height="3.51" fill="#00ad00"/><rect x="15.3" y="116.68" width="2.1" height="1.25" fill="#00ad00"/><rect x="18.23" y="117.43" width="2.1" height="3.01" fill="#ea0000"/><rect x="21.16" y="118.31" width="2.1" height="2.13" fill="#00ad00"/><rect x="24.09" y="114.54" width="2.1" height="4.14" fill="#00ad00"/><rect x="27.02" y="114.92" width="2.1" height="3.76" fill="#ea0000"/><rect x="29.95" y="118.31" width="2.1" height="1.88" fill="#ea0000"/><rect x="32.88" y="118.68" width="2.1" height="2.13" fill="#ea0000"/><rect x="35.81" y="95.09" width="2.1" height="25.72" fill="#00ad00"/><rect x="38.74" y="95.09" width="2.1" height="18.82" fill="#ea0000"/><rect x="41.67" y="101.99" width="2.1" height="11.92" fill="#00ad00"/><rect x="44.6" y="96.35" width="2.1" height="5.65" fill="#00ad00"/><rect x="47.53" y="95.09" width="2.1" height="1.88" fill="#00ad00"/><rect x="50.46" y="95.09" width="2.1" height="8.78" fill="#ea0000"/><rect x="53.39" y="100.11" width="2.1" height="3.76" fill="#00ad00"/><rect x="56.32" y="99.11" width="2.1" height="1.25" fill="#00ad00"/><rect x="59.25" y="98.23" width="2.1" height="1.25" fill="#00ad00"/><rect x="62.18" y="98.23" width="2.1" height="1.63" fill="#ea0000"/><rect x="65.11" y="99.11" width="2.1" height="1.63" fill="#ea0000"/><rect x="68.04" y="71.25" width="2.1" height="29.49" fill="#00ad00"/><rect x="70.97" y="45.72" width="2.1" height="25.72" fill="#00ad00"/><rect x="73.9" y="45.72" width="2.1" height="9.66" fill="#ea0000"/><rect x="76.83" y="55.13" width="2.1" height="2.51" fill="#ea0000"/><rect x="79.76" y="52.87" width="2.1" height="4.52" fill="#00ad00"/><rect x="82.69" y="52.87" width="2.1" height="2.63" fill="#ea0000"/><rect x="85.62" y="52.87" width="2.1" height="2.89" fill="#00ad00"/><rect x="88.55" y="38.82" width="2.1" height="14.81" fill="#00ad00"/><rect x="91.48" y="38.82" width="2.1" height="15.68" fill="#ea0000"/><rect x="94.41" y="40.26" width="2.1" height="43.54" fill="#ea0000"/><rect x="97.34" y="81.54" width="2.1" height="2.51" fill="#00ad00"/><rect x="100.27" y="81.54" width="2.1" height="2.01" fill="#ea0000"/><rect x="103.2" y="83.17" width="2.1" height="3.76" fill="#ea0000"/><rect x="106.13" y="82.8" width="2.1" height="4.14" fill="#00ad00"/><rect x="109.06" y="73.14" width="2.1" height="10.04" fill="#00ad00"/><rect x="111.99" y="71" width="2.1" height="2.76" fill="#00ad00"/><rect x="114.92" y="70" width="2.1" height="1.88" fill="#00ad00"/><rect x="117.85" y="70.63" width="2.1" height="1.63" fill="#ea0000"/><rect x="120.78" y="71.51" width="2.1" height="39.65" fill="#ea0000"/><rect x="123.71" y="109.9" width="2.1" height="1.25" fill="#00ad00"/><rect x="126.64" y="106.61" width="2.1" height="4.27" fill="#00ad00"/><rect x="129.57" y="106.61" width="2.1" height="1.51" fill="#00ad00"/><rect x="132.5" y="105.35" width="2.1" height="1.76" fill="#00ad00"/><rect x="135.43" y="99.96" width="2.1" height="5.65" fill="#00ad00"/><rect x="138.36" y="99.96" width="2.1" height="2.89" fill="#ea0000"/><rect x="141.29" y="101.21" width="2.1" height="1.63" fill="#ea0000"/><rect x="144.22" y="100.84" width="2.1" height="2.01" fill="#00ad00"/><rect x="147.15" y="99.96" width="2.1" height="1.25" fill="#00ad00"/><rect x="150.08" y="99.96" width="2.1" height="1.25" fill="#ea0000"/><rect x="153.01" y="100.58" width="2.1" height="7.28" fill="#ea0000"/><rect x="155.94" y="106.61" width="2.1" height="1.25" fill="#ea0000"/><rect x="158.87" y="105.85" width="2.1" height="2.26" fill="#00ad00"/><rect x="161.8" y="105.85" width="2.1" height="7.03" fill="#ea0000"/><rect x="164.73" y="102.09" width="2.1" height="11.04" fill="#00ad00"/><rect x="167.66" y="97.45" width="2.1" height="5.02" fill="#00ad00"/><rect x="170.59" y="91.17" width="2.1" height="6.65" fill="#00ad00"/><rect x="173.52" y="90.88" width="2.1" height="33.38" fill="#ea0000"/><rect x="176.45" y="123.88" width="2.1" height="16.94" fill="#ea0000"/><rect x="179.38" y="134.55" width="2.1" height="6.52" fill="#00ad00"/><rect x="182.31" y="134.55" width="2.1" height="6.9" fill="#ea0000"/><rect x="185.24" y="141.07" width="2.1" height="3.51" fill="#ea0000"/><rect x="188.17" y="135.55" width="2.1" height="9.03" fill="#00ad00"/><rect x="191.1" y="134.55" width="2.1" height="1.88" fill="#00ad00"/><rect x="194.03" y="134.55" width="2.1" height="5.02" fill="#ea0000"/><rect x="196.96" y="134.8" width="2.1" height="5.02" fill="#00ad00"/><rect x="199.89" y="134.8" width="2.1" height="4.14" fill="#ea0000"/><rect x="202.82" y="137.31" width="2.1" height="1.63" fill="#00ad00"/><rect x="205.75" y="138.56" width="2.1" height="4.52" fill="#ea0000"/><rect x="208.68" y="142.7" width="2.1" height="6.27" fill="#ea0000"/><rect x="211.61" y="148.35" width="2.1" height="19.07" fill="#ea0000"/><rect x="214.54" y="164.03" width="2.1" height="3.76" fill="#00ad00"/><rect x="217.47" y="163.66" width="2.1" height="1.63" fill="#ea0000"/><rect x="220.4" y="163.15" width="2.1" height="2.13" fill="#00ad00"/><rect x="223.33" y="158.64" width="2.1" height="5.4" fill="#00ad00"/><rect x="226.26" y="134.3" width="2.1" height="25.09" fill="#00ad00"/><rect x="229.19" y="134.3" width="2.1" height="41.91" fill="#ea0000"/><rect x="232.12" y="165.29" width="2.1" height="10.92" fill="#00ad00"/><rect x="235.05" y="147.35" width="2.1" height="18.32" fill="#00ad00"/><rect x="237.98" y="137.68" width="2.1" height="10.04" fill="#00ad00"/><rect x="240.91" y="133.92" width="2.1" height="4.14" fill="#00ad00"/><rect x="243.84" y="133.91" width="2.1" height="0.9" fill="#ea0000"/><rect x="246.77" y="129.78" width="2.1" height="4.77" fill="#00ad00"/><rect x="249.7" y="129.78" width="2.1" height="2.26" fill="#ea0000"/><rect x="252.63" y="128.9" width="2.1" height="3.14" fill="#00ad00"/><rect x="255.56" y="129.12" width="2.1" height="2.51" fill="#ea0000"/><rect x="258.49" y="129.62" width="2.1" height="2.01" fill="#00ad00"/><rect x="261.42" y="129.12" width="2.1" height="4.02" fill="#ea0000"/><rect x="264.35" y="131.25" width="2.1" height="1.63" fill="#00ad00"/><rect x="267.28" y="130.87" width="2.1" height="1.63" fill="#ea0000"/><rect x="270.21" y="131.63" width="2.1" height="2.13" fill="#ea0000"/><rect x="273.14" y="131.25" width="2.1" height="2.13" fill="#00ad00"/><rect x="276.07" y="127.49" width="2.1" height="4.14" fill="#00ad00"/><rect x="279" y="127.11" width="2.1" height="6.02" fill="#ea0000"/><rect x="281.93" y="128.74" width="2.1" height="4.64" fill="#00ad00"/><rect x="284.86" y="126.23" width="2.1" height="2.89" fill="#00ad00"/><rect x="287.79" y="122.09" width="2.1" height="4.52" fill="#00ad00"/><rect x="290.72" y="120.33" width="2.1" height="1.76" fill="#00ad00"/><rect x="293.65" y="115.82" width="2.1" height="4.77" fill="#00ad00"/><rect x="296.58" y="114.94" width="2.1" height="1.25" fill="#00ad00"/><rect x="299.51" y="114.94" width="2.1" height="16.94" fill="#ea0000"/><rect x="302.44" y="124.35" width="2.1" height="7.28" fill="#00ad00"/><rect x="305.37" y="124.35" width="2.1" height="4.39" fill="#ea0000"/><rect x="308.3" y="128.36" width="2.1" height="6.65" fill="#ea0000"/><rect x="311.23" y="132.88" width="2.1" height="2.51" fill="#00ad00"/><rect x="314.16" y="132.88" width="2.1" height="10.04" fill="#ea0000"/><rect x="317.09" y="139.15" width="2.1" height="4.02" fill="#00ad00"/><rect x="320.02" y="135.01" width="2.1" height="4.64" fill="#00ad00"/><rect x="322.95" y="134.64" width="2.1" height="4.52" fill="#ea0000"/><rect x="325.88" y="138.78" width="2.1" height="3.14" fill="#ea0000"/><rect x="328.81" y="141.66" width="2.1" height="2.51" fill="#ea0000"/><rect x="331.74" y="142.54" width="2.1" height="1.63" fill="#00ad00"/><rect x="334.67" y="138.4" width="2.1" height="5.4" fill="#00ad00"/><rect x="337.6" y="137.52" width="2.1" height="1.25" fill="#00ad00"/><rect x="340.53" y="137.52" width="2.1" height="1.88" fill="#ea0000"/><rect x="343.46" y="138.4" width="2.1" height="1.63" fill="#ea0000"/><rect x="346.39" y="139.66" width="2.1" height="4.52" fill="#ea0000"/><rect x="349.32" y="135.64" width="2.1" height="8.53" fill="#00ad00"/><rect x="352.25" y="135.39" width="2.1" height="1.51" fill="#ea0000"/><rect x="355.18" y="136.64" width="2.1" height="12.17" fill="#ea0000"/><rect x="358.11" y="134.39" width="2.1" height="14.81" fill="#00ad00"/><rect x="361.04" y="134.39" width="2.1" height="2.76" fill="#ea0000"/><rect x="363.97" y="134.64" width="2.1" height="2.26" fill="#00ad00"/><rect x="366.9" y="134.64" width="2.1" height="9.79" fill="#ea0000"/><rect x="369.83" y="142.92" width="2.1" height="1.51" fill="#00ad00"/><rect x="372.76" y="141.91" width="2.1" height="1.51" fill="#00ad00"/><rect x="375.69" y="141.91" width="2.1" height="1.25" fill="#00ad00"/><rect x="378.62" y="141.04" width="2.1" height="1.51" fill="#ea0000"/><rect x="381.55" y="140.91" width="2.1" height="2.89" fill="#ea0000"/><rect x="384.48" y="142.17" width="2.1" height="1.25" fill="#ea0000"/><rect x="387.41" y="142.17" width="2.1" height="1.63" fill="#00ad00"/><rect x="390.34" y="137.52" width="2.1" height="5.02" fill="#00ad00"/><rect x="393.27" y="138.15" width="2.1" height="1.51" fill="#ea0000"/><rect x="396.2" y="139.41" width="2.1" height="1.88" fill="#ea0000"/><rect x="399.13" y="139.41" width="2.1" height="1.51" fill="#00ad00"/><rect x="402.06" y="137.9" width="2.1" height="1.76" fill="#00ad00"/><rect x="404.99" y="137.9" width="2.1" height="4.64" fill="#ea0000"/><rect x="407.92" y="137.52" width="2.1" height="5.02" fill="#00ad00"/><rect x="410.85" y="116.82" width="2.1" height="21.33" fill="#00ad00"/><rect x="413.78" y="116.82" width="2.1" height="6.02" fill="#ea0000"/><rect x="416.71" y="122.09" width="2.1" height="14.18" fill="#ea0000"/><rect x="419.64" y="135.89" width="2.1" height="6.02" fill="#ea0000"/><rect x="422.57" y="141.28" width="2.1" height="0.9" fill="#ea0000"/><rect x="425.5" y="140.91" width="2.1" height="2.01" fill="#00ad00"/><rect x="428.43" y="137.9" width="2.1" height="3.39" fill="#00ad00"/><rect x="431.36" y="137.15" width="2.1" height="2.89" fill="#ea0000"/><rect x="434.29" y="131.25" width="2.1" height="6.9" fill="#00ad00"/><rect x="437.22" y="128.74" width="2.1" height="2.89" fill="#00ad00"/><rect x="440.15" y="128.74" width="2.1" height="4.39" fill="#ea0000"/><rect x="443.08" y="132.13" width="2.1" height="1" fill="#00ad00"/><rect x="446.01" y="131.63" width="2.1" height="1.76" fill="#ea0000"/><rect x="448.94" y="132.13" width="2.1" height="1.63" fill="#00ad00"/><rect x="451.87" y="126.23" width="2.1" height="5.9" fill="#00ad00"/><rect x="454.8" y="126.23" width="2.1" height="3.76" fill="#ea0000"/><rect x="457.73" y="129.99" width="2.1" height="4.14" fill="#ea0000"/><rect x="460.66" y="130.87" width="2.1" height="3.51" fill="#00ad00"/><rect x="463.59" y="130.62" width="2.1" height="2.51" fill="#00ad00"/><rect x="466.52" y="130.62" width="2.1" height="1.51" fill="#ea0000"/><rect x="469.45" y="129.12" width="2.1" height="2.76" fill="#00ad00"/><rect x="472.38" y="128.36" width="2.1" height="2.51" fill="#00ad00"/><rect x="475.31" y="127.86" width="2.1" height="1.51" fill="#00ad00"/><rect x="478.24" y="126.23" width="2.1" height="2.13" fill="#00ad00"/><rect x="481.17" y="121.59" width="2.1" height="5.02" fill="#00ad00"/><rect x="484.1" y="121.59" width="2.1" height="1.51" fill="#ea0000"/><rect x="487.03" y="116.19" width="2.1" height="6.9" fill="#00ad00"/><rect x="489.96" y="107.03" width="2.1" height="9.54" fill="#00ad00"/><rect x="492.89" y="98.68" width="2.1" height="9.54" fill="#00ad00"/><rect x="495.82" y="98.16" width="2.1" height="0.9" fill="#00ad00"/><rect x="498.75" y="97.8" width="2.1" height="1.25" fill="#00ad00"/><rect x="501.68" y="98.17" width="2.1" height="8.41" fill="#ea0000"/><rect x="504.61" y="104.7" width="2.1" height="2.26" fill="#00ad00"/><rect x="507.54" y="102.44" width="2.1" height="2.51" fill="#00ad00"/><rect x="510.47" y="100.93" width="2.1" height="2.76" fill="#00ad00"/><rect x="513.4" y="98.17" width="2.1" height="3.39" fill="#00ad00"/><rect x="516.33" y="93.66" width="2.1" height="4.77" fill="#00ad00"/><rect x="519.26" y="93.66" width="2.1" height="2.51" fill="#ea0000"/><rect x="522.19" y="94.41" width="2.1" height="1.76" fill="#ea0000"/><rect x="525.12" y="94.91" width="2.1" height="2.01" fill="#ea0000"/><rect x="528.05" y="95.66" width="2.1" height="1.25" fill="#ea0000"/><rect x="530.98" y="94.03" width="2.1" height="2.89" fill="#00ad00"/><rect x="533.91" y="84.87" width="2.1" height="9.54" fill="#00ad00"/><rect x="536.84" y="84.87" width="2.1" height="7.03" fill="#ea0000"/><rect x="539.77" y="85.88" width="2.1" height="6.02" fill="#00ad00"/><rect x="542.7" y="82.36" width="2.1" height="4.14" fill="#00ad00"/><rect x="545.63" y="76.09" width="2.1" height="6.65" fill="#00ad00"/><rect x="548.56" y="75.21" width="2.1" height="1.63" fill="#00ad00"/><rect x="551.49" y="75.21" width="2.1" height="1.25" fill="#00ad00"/><rect x="554.42" y="75.84" width="2.1" height="2.76" fill="#ea0000"/><rect x="557.35" y="73.08" width="2.1" height="5.27" fill="#00ad00"/><rect x="560.28" y="65.17" width="2.1" height="9.16" fill="#00ad00"/><rect x="563.21" y="64.55" width="2.1" height="12.3" fill="#ea0000"/><rect x="566.14" y="59.78" width="2.1" height="17.06" fill="#00ad00"/><rect x="569.07" y="59.78" width="2.1" height="7.03" fill="#ea0000"/><rect x="572" y="66.81" width="2.1" height="2.51" fill="#ea0000"/><rect x="574.93" y="68.94" width="2.1" height="8.41" fill="#ea0000"/><rect x="577.86" y="76.84" width="2.1" height="13.05" fill="#ea0000"/><rect x="580.79" y="89.39" width="2.1" height="5.27" fill="#ea0000"/><rect x="583.72" y="88.64" width="2.1" height="6.02" fill="#00ad00"/><rect x="586.65" y="88.64" width="2.1" height="6.65" fill="#ea0000"/><rect x="589.58" y="94.91" width="2.1" height="3.51" fill="#ea0000"/><rect x="592.51" y="97.8" width="2.1" height="2.13" fill="#ea0000"/><rect x="595.44" y="99.68" width="2.1" height="4.02" fill="#ea0000"/><rect x="598.37" y="101.94" width="2.1" height="1.76" fill="#00ad00"/><rect x="601.3" y="101.94" width="2.1" height="1.25" fill="#ea0000"/><rect x="604.23" y="99.93" width="2.1" height="3.26" fill="#00ad00"/><rect x="607.16" y="99.68" width="2.1" height="2.26" fill="#ea0000"/><rect x="610.09" y="101.56" width="2.1" height="5.4" fill="#ea0000"/><rect x="613.02" y="101.15" width="2.1" height="6.02" fill="#00ad00"/><rect x="615.95" y="101.15" width="2.1" height="7.9" fill="#ea0000"/><rect x="618.88" y="106.92" width="2.1" height="2.13" fill="#00ad00"/><rect x="621.81" y="106.17" width="2.1" height="1.63" fill="#ea0000"/><rect x="624.74" y="106.17" width="2.1" height="1.63" fill="#00ad00"/><rect x="627.67" y="104.66" width="2.1" height="1.88" fill="#00ad00"/><rect x="630.6" y="104.66" width="2.1" height="1.51" fill="#ea0000"/><rect x="633.53" y="105.29" width="2.1" height="1.25" fill="#ea0000"/><rect x="636.46" y="106.17" width="2.1" height="2.01" fill="#ea0000"/><rect x="639.39" y="105.29" width="2.1" height="2.51" fill="#00ad00"/><rect x="642.32" y="104.41" width="2.1" height="1.76" fill="#ea0000"/><rect x="645.25" y="102.78" width="2.1" height="2.89" fill="#00ad00"/><rect x="648.18" y="100.27" width="2.1" height="3.14" fill="#00ad00"/><rect x="651.11" y="99.01" width="2.1" height="1.63" fill="#00ad00"/><rect x="654.04" y="98.39" width="2.1" height="1.25" fill="#ea0000"/><rect x="656.97" y="92.11" width="2.1" height="6.9" fill="#00ad00"/><rect x="659.9" y="92.11" width="2.1" height="4.77" fill="#ea0000"/><rect x="662.83" y="96.13" width="2.1" height="5.02" fill="#ea0000"/><rect x="665.76" y="97.38" width="2.1" height="3.51" fill="#00ad00"/><rect x="668.69" y="97.13" width="2.1" height="2.51" fill="#ea0000"/><rect x="671.62" y="98.64" width="2.1" height="7.28" fill="#ea0000"/><rect x="674.55" y="100.64" width="2.1" height="5.27" fill="#00ad00"/><rect x="677.48" y="99.01" width="2.1" height="1.88" fill="#00ad00"/><rect x="680.41" y="96.88" width="2.1" height="2.51" fill="#00ad00"/><rect x="683.34" y="84.84" width="2.1" height="12.3" fill="#00ad00"/><rect x="686.27" y="78.06" width="2.1" height="7.15" fill="#00ad00"/><rect x="689.2" y="53.09" width="2.1" height="25.35" fill="#00ad00"/><rect x="692.13" y="46.82" width="2.1" height="6.9" fill="#00ad00"/><rect x="695.06" y="47.07" width="2.1" height="4.52" fill="#ea0000"/><rect x="697.99" y="50.58" width="2.1" height="11.92" fill="#ea0000"/><rect x="700.92" y="48.7" width="2.1" height="14.18" fill="#00ad00"/><rect x="703.85" y="43.68" width="2.1" height="5.4" fill="#00ad00"/><rect x="706.78" y="43.68" width="2.1" height="4.14" fill="#ea0000"/><rect x="709.71" y="47.07" width="2.1" height="16.31" fill="#ea0000"/><rect x="712.64" y="52.47" width="2.1" height="10.04" fill="#00ad00"/><rect x="715.57" y="47.82" width="2.1" height="5.27" fill="#00ad00"/><rect x="718.5" y="47.82" width="2.1" height="4.64" fill="#ea0000"/><rect x="721.43" y="51.84" width="2.1" height="9.03" fill="#ea0000"/><rect x="724.36" y="54.6" width="2.1" height="6.27" fill="#00ad00"/><rect x="727.29" y="54.6" width="2.1" height="6.27" fill="#ea0000"/><rect x="730.22" y="56.61" width="2.1" height="3.76" fill="#00ad00"/><rect x="733.15" y="57.11" width="2.1" height="1.63" fill="#ea0000"/><rect x="736.08" y="58.74" width="2.1" height="9.16" fill="#ea0000"/><rect x="739.01" y="64.64" width="2.1" height="3.26" fill="#00ad00"/><rect x="741.94" y="59.99" width="2.1" height="5.02" fill="#00ad00"/><rect x="744.87" y="59.99" width="2.1" height="2.13" fill="#ea0000"/><rect x="747.8" y="60.87" width="2.1" height="1.25" fill="#00ad00"/><rect x="750.73" y="58.11" width="2.1" height="3.14" fill="#00ad00"/><rect x="753.66" y="52.47" width="2.1" height="6.27" fill="#00ad00"/><rect x="756.59" y="52.47" width="2.1" height="3.14" fill="#ea0000"/><rect x="759.52" y="55.35" width="2.1" height="1.76" fill="#ea0000"/><rect x="762.45" y="55.35" width="2.1" height="2.13" fill="#00ad00"/><rect x="765.38" y="55.35" width="2.1" height="2.76" fill="#ea0000"/><rect x="768.31" y="54.1" width="2.1" height="4.02" fill="#00ad00"/><rect x="771.24" y="51.21" width="2.1" height="3.76" fill="#00ad00"/><rect x="774.17" y="48.33" width="2.1" height="3.51" fill="#00ad00"/><rect x="777.1" y="47.82" width="2.1" height="15.31" fill="#ea0000"/><rect x="780.03" y="63.14" width="2.1" height="15.68" fill="#ea0000"/><rect x="782.96" y="78.82" width="2.1" height="1.88" fill="#ea0000"/><rect x="785.89" y="75.31" width="2.1" height="5.77" fill="#00ad00"/><rect x="788.82" y="75.68" width="2.1" height="3.76" fill="#ea0000"/><rect x="791.75" y="76.31" width="2.1" height="3.14" fill="#00ad00"/><rect x="794.68" y="76.31" width="2.1" height="7.78" fill="#ea0000"/><rect x="797.61" y="82.58" width="2.1" height="1.88" fill="#ea0000"/><rect x="800.54" y="84.09" width="2.1" height="15.81" fill="#ea0000"/><rect x="803.47" y="99.12" width="2.1" height="3.39" fill="#ea0000"/><rect x="806.4" y="101.51" width="2.1" height="18.32" fill="#ea0000"/><rect x="809.33" y="118.82" width="2.1" height="9.03" fill="#ea0000"/><rect x="812.26" y="127.35" width="2.1" height="13.43" fill="#ea0000"/><rect x="815.19" y="130.74" width="2.1" height="10.04" fill="#00ad00"/><rect x="818.12" y="130.74" width="2.1" height="3.14" fill="#ea0000"/><rect x="821.05" y="133.25" width="2.1" height="7.15" fill="#ea0000"/><rect x="823.98" y="126.1" width="2.1" height="14.05" fill="#00ad00"/><rect x="826.91" y="125.97" width="2.1" height="25.72" fill="#ea0000"/></g>
<g id="delta"><rect x="6.39" y="318.98" width="2.35" height="20.42" fill="#32cd32"/><rect x="9.32" y="318.73" width="2.35" height="20.67" fill="#32cd32"/><rect x="12.25" y="315.84" width="2.35" height="23.56" fill="#32cd32"/><rect x="15.18" y="315.21" width="2.35" height="24.19" fill="#32cd32"/><rect x="18.11" y="316.09" width="2.35" height="23.31" fill="#32cd32"/><rect x="21.04" y="315.84" width="2.35" height="23.56" fill="#32cd32"/><rect x="23.97" y="315.84" width="2.35" height="23.56" fill="#32cd32"/><rect x="26.9" y="318.1" width="2.35" height="21.3" fill="#32cd32"/><rect x="29.83" y="316.47" width="2.35" height="22.93" fill="#32cd32"/><rect x="32.76" y="321.11" width="2.35" height="18.29" fill="#32cd32"/><rect x="35.69" y="314.21" width="2.35" height="25.19" fill="#32cd32"/><rect x="38.62" y="322.11" width="2.35" height="17.29" fill="#32cd32"/><rect x="41.55" y="320.66" width="2.35" height="18.74" fill="#32cd32"/><rect x="44.48" y="315.64" width="2.35" height="23.76" fill="#32cd32"/><rect x="47.41" y="312.5" width="2.35" height="26.9" fill="#32cd32"/><rect x="50.34" y="316.27" width="2.35" height="23.13" fill="#32cd32"/><rect x="53.27" y="317.15" width="2.35" height="22.25" fill="#32cd32"/><rect x="56.2" y="315.89" width="2.35" height="23.51" fill="#32cd32"/><rect x="59.13" y="317.15" width="2.35" height="22.25" fill="#32cd32"/><rect x="62.06" y="316.02" width="2.35" height="23.38" fill="#32cd32"/><rect x="64.99" y="318.78" width="2.35" height="20.62" fill="#32cd32"/><rect x="67.92" y="305.6" width="2.35" height="33.8" fill="#32cd32"/><rect x="70.85" y="292.81" width="2.35" height="46.59" fill="#32cd32"/><rect x="73.78" y="287.79" width="2.35" height="51.61" fill="#32cd32"/><rect x="76.71" y="291.55" width="2.35" height="47.85" fill="#32cd32"/><rect x="79.64" y="294.06" width="2.35" height="45.34" fill="#32cd32"/><rect x="82.57" y="294.94" width="2.35" height="44.46" fill="#32cd32"/><rect x="85.5" y="294.56" width="2.35" height="44.84" fill="#32cd32"/><rect x="88.43" y="294.06" width="2.35" height="45.34" fill="#32cd32"/><rect x="91.36" y="291.17" width="2.35" height="48.23" fill="#32cd32"/><rect x="94.29" y="300.33" width="2.35" height="39.07" fill="#32cd32"/><rect x="97.22" y="307.86" width="2.35" height="31.54" fill="#32cd32"/><rect x="100.15" y="308.49" width="2.35" height="30.91" fill="#32cd32"/><rect x="103.08" y="307.86" width="2.35" height="31.54" fill="#32cd32"/><rect x="106.01" y="310.25" width="2.35" height="29.15" fill="#32cd32"/><rect x="108.94" y="307.86" width="2.35" height="31.54" fill="#32cd32"/><rect x="111.87" y="305.98" width="2.35" height="33.42" fill="#32cd32"/><rect x="114.8" y="303.47" width="2.35" height="35.93" fill="#32cd32"/><rect x="117.73" y="306.23" width="2.35" height="33.17" fill="#32cd32"/><rect x="120.66" y="318.15" width="2.35" height="21.25" fill="#32cd32"/><rect x="123.59" y="333.21" width="2.35" height="6.19" fill="#32cd32"/><rect x="126.52" y="333.46" width="2.35" height="5.94" fill="#32cd32"/><rect x="129.45" y="334.09" width="2.35" height="5.31" fill="#32cd32"/><rect x="132.38" y="331.7" width="2.35" height="7.7" fill="#32cd32"/><rect x="135.31" y="329.07" width="2.35" height="10.33" fill="#32cd32"/><rect x="138.24" y="326.31" width="2.35" height="13.09" fill="#32cd32"/><rect x="141.17" y="326.93" width="2.35" height="12.47" fill="#32cd32"/><rect x="144.1" y="325.93" width="2.35" height="13.47" fill="#32cd32"/><rect x="147.03" y="325.05" width="2.35" height="14.35" fill="#32cd32"/><rect x="149.96" y="323.17" width="2.35" height="16.23" fill="#32cd32"/><rect x="152.89" y="320.28" width="2.35" height="19.12" fill="#32cd32"/><rect x="155.82" y="322.54" width="2.35" height="16.86" fill="#32cd32"/><rect x="158.75" y="323.37" width="2.35" height="16.03" fill="#32cd32"/><rect x="161.68" y="324.62" width="2.35" height="14.78" fill="#32cd32"/><rect x="164.61" y="324.62" width="2.35" height="14.78" fill="#32cd32"/><rect x="167.54" y="324.62" width="2.35" height="14.78" fill="#32cd32"/><rect x="170.47" y="319.85" width="2.35" height="19.55" fill="#32cd32"/><rect x="173.4" y="332.15" width="2.35" height="7.25" fill="#32cd32"/><rect x="176.33" y="338.8" width="2.35" height="1.26" fill="#ff4500"/><rect x="179.26" y="338.8" width="2.35" height="6.9" fill="#ff4500"/><rect x="182.19" y="338.8" width="2.35" height="4.39" fill="#ff4500"/><rect x="185.12" y="338.8" width="2.35" height="3.39" fill="#ff4500"/><rect x="188.05" y="338.8" width="2.35" height="2.76" fill="#ff4500"/><rect x="190.98" y="338.68" width="2.35" height="0.72" fill="#32cd32"/><rect x="193.91" y="338.8" width="2.35" height="1.26" fill="#ff4500"/><rect x="196.84" y="337.42" width="2.35" height="1.98" fill="#32cd32"/><rect x="199.77" y="335.54" width="2.35" height="3.86" fill="#32cd32"/><rect x="202.7" y="335.54" width="2.35" height="3.86" fill="#32cd32"/><rect x="205.63" y="338.8" width="2.35" height="1.26" fill="#ff4500"/><rect x="208.56" y="332.15" width="2.35" height="7.25" fill="#32cd32"/><rect x="211.49" y="338.8" width="2.35" height="2.38" fill="#ff4500"/><rect x="214.42" y="338.8" width="2.35" height="5.65" fill="#ff4500"/><rect x="217.35" y="338.8" width="2.35" height="7.15" fill="#ff4500"/><rect x="220.28" y="338.8" width="2.35" height="5.65" fill="#ff4500"/><rect x="223.21" y="338.8" width="2.35" height="1.51" fill="#ff4500"/><rect x="226.14" y="318.35" width="2.35" height="21.05" fill="#32cd32"/><rect x="229.07" y="332.15" width="2.35" height="7.25" fill="#32cd32"/><rect x="232" y="337.42" width="2.35" height="1.98" fill="#32cd32"/><rect x="234.93" y="331.27" width="2.35" height="8.13" fill="#32cd32"/><rect x="237.86" y="317.09" width="2.35" height="22.31" fill="#32cd32"/><rect x="240.79" y="314.96" width="2.35" height="24.44" fill="#32cd32"/><rect x="243.72" y="306.05" width="2.35" height="33.35" fill="#32cd32"/><rect x="246.65" y="304.17" width="2.35" height="35.23" fill="#32cd32"/><rect x="249.58" y="303.04" width="2.35" height="36.36" fill="#32cd32"/><rect x="252.51" y="303.92" width="2.35" height="35.48" fill="#32cd32"/><rect x="255.44" y="305.17" width="2.35" height="34.23" fill="#32cd32"/><rect x="258.37" y="304.17" width="2.35" height="35.23" fill="#32cd32"/><rect x="261.3" y="304.92" width="2.35" height="34.48" fill="#32cd32"/><rect x="264.23" y="304.17" width="2.35" height="35.23" fill="#32cd32"/><rect x="267.16" y="305.17" width="2.35" height="34.23" fill="#32cd32"/><rect x="270.09" y="306.81" width="2.35" height="32.59" fill="#32cd32"/><rect x="273.02" y="306.05" width="2.35" height="33.35" fill="#32cd32"/><rect x="275.95" y="305.43" width="2.35" height="33.97" fill="#32cd32"/><rect x="278.88" y="311.45" width="2.35" height="27.95" fill="#32cd32"/><rect x="281.81" y="309.57" width="2.35" height="29.83" fill="#32cd32"/><rect x="284.74" y="306.81" width="2.35" height="32.59" fill="#32cd32"/><rect x="287.67" y="311.45" width="2.35" height="27.95" fill="#32cd32"/><rect x="290.6" y="312.33" width="2.35" height="27.07" fill="#32cd32"/><rect x="293.53" y="313.96" width="2.35" height="25.44" fill="#32cd32"/><rect x="296.46" y="314.58" width="2.35" height="24.82" fill="#32cd32"/><rect x="299.39" y="316.47" width="2.35" height="22.93" fill="#32cd32"/><rect x="302.32" y="320.61" width="2.35" height="18.79" fill="#32cd32"/><rect x="305.25" y="320.61" width="2.35" height="18.79" fill="#32cd32"/><rect x="308.18" y="325" width="2.35" height="14.4" fill="#32cd32"/><rect x="311.11" y="327.38" width="2.35" height="12.02" fill="#32cd32"/><rect x="314.04" y="330.27" width="2.35" height="9.13" fill="#32cd32"/><rect x="316.97" y="328.64" width="2.35" height="10.76" fill="#32cd32"/><rect x="319.9" y="329.01" width="2.35" height="10.39" fill="#32cd32"/><rect x="322.83" y="332.4" width="2.35" height="7" fill="#32cd32"/><rect x="325.76" y="331.27" width="2.35" height="8.13" fill="#32cd32"/><rect x="328.69" y="332.4" width="2.35" height="7" fill="#32cd32"/><rect x="331.62" y="331.27" width="2.35" height="8.13" fill="#32cd32"/><rect x="334.55" y="329.01" width="2.35" height="10.39" fill="#32cd32"/><rect x="337.48" y="326.25" width="2.35" height="13.15" fill="#32cd32"/><rect x="340.41" y="325.25" width="2.35" height="14.15" fill="#32cd32"/><rect x="343.34" y="326.13" width="2.35" height="13.27" fill="#32cd32"/><rect x="346.27" y="330.64" width="2.35" height="8.76" fill="#32cd32"/><rect x="349.2" y="327.38" width="2.35" height="12.02" fill="#32cd32"/><rect x="352.13" y="323.62" width="2.35" height="15.78" fill="#32cd32"/><rect x="355.06" y="332.53" width="2.35" height="6.87" fill="#32cd32"/><rect x="357.99" y="320.86" width="2.35" height="18.54" fill="#32cd32"/><rect x="360.92" y="319.6" width="2.35" height="19.8" fill="#32cd32"/><rect x="363.85" y="320.48" width="2.35" height="18.92" fill="#32cd32"/><rect x="366.78" y="338.8" width="2.35" height="1.88" fill="#ff4500"/><rect x="369.71" y="338.8" width="2.35" height="2.76" fill="#ff4500"/><rect x="372.64" y="338.8" width="2.35" height="1.51" fill="#ff4500"/><rect x="375.57" y="338.8" width="2.35" height="2.38" fill="#ff4500"/><rect x="378.5" y="338.8" width="2.35" height="1" fill="#ff4500"/><rect x="381.43" y="338.42" width="2.35" height="0.98" fill="#32cd32"/><rect x="384.36" y="336.92" width="2.35" height="2.48" fill="#32cd32"/><rect x="387.29" y="337.8" width="2.35" height="1.6" fill="#32cd32"/><rect x="390.22" y="334.66" width="2.35" height="4.74" fill="#32cd32"/><rect x="393.15" y="332.15" width="2.35" height="7.25" fill="#32cd32"/><rect x="396.08" y="332.53" width="2.35" height="6.87" fill="#32cd32"/><rect x="399.01" y="332.53" width="2.35" height="6.87" fill="#32cd32"/><rect x="401.94" y="330.64" width="2.35" height="8.76" fill="#32cd32"/><rect x="404.87" y="331.27" width="2.35" height="8.13" fill="#32cd32"/><rect x="407.8" y="330.27" width="2.35" height="9.13" fill="#32cd32"/><rect x="410.73" y="316.09" width="2.35" height="23.31" fill="#32cd32"/><rect x="413.66" y="309.57" width="2.35" height="29.83" fill="#32cd32"/><rect x="416.59" y="322.36" width="2.35" height="17.04" fill="#32cd32"/><rect x="419.52" y="338.17" width="2.35" height="1.23" fill="#32cd32"/><rect x="422.45" y="338.8" width="2.35" height="1" fill="#ff4500"/><rect x="425.38" y="338.8" width="2.35" height="1.51" fill="#ff4500"/><rect x="428.31" y="338.68" width="2.35" height="0.72" fill="#32cd32"/><rect x="431.24" y="335.91" width="2.35" height="3.49" fill="#32cd32"/><rect x="434.17" y="320.23" width="2.35" height="19.17" fill="#32cd32"/><rect x="437.1" y="315.84" width="2.35" height="23.56" fill="#32cd32"/><rect x="440.03" y="317.35" width="2.35" height="22.05" fill="#32cd32"/><rect x="442.96" y="319.23" width="2.35" height="20.17" fill="#32cd32"/><rect x="445.89" y="321.86" width="2.35" height="17.54" fill="#32cd32"/><rect x="448.82" y="322.11" width="2.35" height="17.29" fill="#32cd32"/><rect x="451.75" y="318.35" width="2.35" height="21.05" fill="#32cd32"/><rect x="454.68" y="318.98" width="2.35" height="20.42" fill="#32cd32"/><rect x="457.61" y="320.48" width="2.35" height="18.92" fill="#32cd32"/><rect x="460.54" y="322.11" width="2.35" height="17.29" fill="#32cd32"/><rect x="463.47" y="323.37" width="2.35" height="16.03" fill="#32cd32"/><rect x="466.4" y="323.37" width="2.35" height="16.03" fill="#32cd32"/><rect x="469.33" y="322.36" width="2.35" height="17.04" fill="#32cd32"/><rect x="472.26" y="321.86" width="2.35" height="17.54" fill="#32cd32"/><rect x="475.19" y="318.98" width="2.35" height="20.42" fill="#32cd32"/><rect x="478.12" y="316.22" width="2.35" height="23.18" fill="#32cd32"/><rect x="481.05" y="311.82" width="2.35" height="27.58" fill="#32cd32"/><rect x="483.98" y="310.44" width="2.35" height="28.96" fill="#32cd32"/><rect x="486.91" y="305.55" width="2.35" height="33.85" fill="#32cd32"/><rect x="489.84" y="304.17" width="2.35" height="35.23" fill="#32cd32"/><rect x="492.77" y="305.8" width="2.35" height="33.6" fill="#32cd32"/><rect x="495.7" y="302.66" width="2.35" height="36.74" fill="#32cd32"/><rect x="498.63" y="303.54" width="2.35" height="35.86" fill="#32cd32"/><rect x="501.56" y="307.06" width="2.35" height="32.34" fill="#32cd32"/><rect x="504.49" y="309.19" width="2.35" height="30.21" fill="#32cd32"/><rect x="507.42" y="310.19" width="2.35" height="29.21" fill="#32cd32"/><rect x="510.35" y="308.94" width="2.35" height="30.46" fill="#32cd32"/><rect x="513.28" y="309.19" width="2.35" height="30.21" fill="#32cd32"/><rect x="516.21" y="306.81" width="2.35" height="32.59" fill="#32cd32"/><rect x="519.14" y="306.18" width="2.35" height="33.22" fill="#32cd32"/><rect x="522.07" y="309.82" width="2.35" height="29.58" fill="#32cd32"/><rect x="525" y="310.19" width="2.35" height="29.21" fill="#32cd32"/><rect x="527.93" y="310.44" width="2.35" height="28.96" fill="#32cd32"/><rect x="530.86" y="308.94" width="2.35" height="30.46" fill="#32cd32"/><rect x="533.79" y="309.19" width="2.35" height="30.21" fill="#32cd32"/><rect x="536.72" y="319.98" width="2.35" height="19.42" fill="#32cd32"/><rect x="539.65" y="318.98" width="2.35" height="20.42" fill="#32cd32"/><rect x="542.58" y="316.09" width="2.35" height="23.31" fill="#32cd32"/><rect x="545.51" y="311.45" width="2.35" height="27.95" fill="#32cd32"/><rect x="548.44" y="308.31" width="2.35" height="31.09" fill="#32cd32"/><rect x="551.37" y="309.82" width="2.35" height="29.58" fill="#32cd32"/><rect x="554.3" y="308.94" width="2.35" height="30.46" fill="#32cd32"/><rect x="557.23" y="310.57" width="2.35" height="28.83" fill="#32cd32"/><rect x="560.16" y="309.57" width="2.35" height="29.83" fill="#32cd32"/><rect x="563.09" y="315.46" width="2.35" height="23.94" fill="#32cd32"/><rect x="566.02" y="305.55" width="2.35" height="33.85" fill="#32cd32"/><rect x="568.95" y="304.3" width="2.35" height="35.1" fill="#32cd32"/><rect x="571.88" y="308.06" width="2.35" height="31.34" fill="#32cd32"/><rect x="574.81" y="318.1" width="2.35" height="21.3" fill="#32cd32"/><rect x="577.74" y="318.73" width="2.35" height="20.67" fill="#32cd32"/><rect x="580.67" y="321.11" width="2.35" height="18.29" fill="#32cd32"/><rect x="583.6" y="323.37" width="2.35" height="16.03" fill="#32cd32"/><rect x="586.53" y="324.87" width="2.35" height="14.53" fill="#32cd32"/><rect x="589.46" y="327.13" width="2.35" height="12.27" fill="#32cd32"/><rect x="592.39" y="328.39" width="2.35" height="11.01" fill="#32cd32"/><rect x="595.32" y="332.4" width="2.35" height="7" fill="#32cd32"/><rect x="598.25" y="330.9" width="2.35" height="8.5" fill="#32cd32"/><rect x="601.18" y="331.9" width="2.35" height="7.5" fill="#32cd32"/><rect x="604.11" y="338.17" width="2.35" height="1.23" fill="#32cd32"/><rect x="607.04" y="336.79" width="2.35" height="2.61" fill="#32cd32"/><rect x="609.97" y="338.68" width="2.35" height="0.72" fill="#32cd32"/><rect x="612.9" y="328.39" width="2.35" height="11.01" fill="#32cd32"/><rect x="615.83" y="336.79" width="2.35" height="2.61" fill="#32cd32"/><rect x="618.76" y="338.05" width="2.35" height="1.35" fill="#32cd32"/><rect x="621.69" y="338.8" width="2.35" height="1.26" fill="#ff4500"/><rect x="624.62" y="337.8" width="2.35" height="1.6" fill="#32cd32"/><rect x="627.55" y="336.17" width="2.35" height="3.23" fill="#32cd32"/><rect x="630.48" y="336.79" width="2.35" height="2.61" fill="#32cd32"/><rect x="633.41" y="337.17" width="2.35" height="2.23" fill="#32cd32"/><rect x="636.34" y="337.42" width="2.35" height="1.98" fill="#32cd32"/><rect x="639.27" y="337.42" width="2.35" height="1.98" fill="#32cd32"/><rect x="642.2" y="336.92" width="2.35" height="2.48" fill="#32cd32"/><rect x="645.13" y="335.29" width="2.35" height="4.11" fill="#32cd32"/><rect x="648.06" y="335.04" width="2.35" height="4.36" fill="#32cd32"/><rect x="650.99" y="330.52" width="2.35" height="8.88" fill="#32cd32"/><rect x="653.92" y="331.15" width="2.35" height="8.25" fill="#32cd32"/><rect x="656.85" y="323.37" width="2.35" height="16.03" fill="#32cd32"/><rect x="659.78" y="323.99" width="2.35" height="15.41" fill="#32cd32"/><rect x="662.71" y="334.66" width="2.35" height="4.74" fill="#32cd32"/><rect x="665.64" y="335.29" width="2.35" height="4.11" fill="#32cd32"/><rect x="668.57" y="333.41" width="2.35" height="5.99" fill="#32cd32"/><rect x="671.5" y="337.17" width="2.35" height="2.23" fill="#32cd32"/><rect x="674.43" y="334.66" width="2.35" height="4.74" fill="#32cd32"/><rect x="677.36" y="328.39" width="2.35" height="11.01" fill="#32cd32"/><rect x="680.29" y="325.25" width="2.35" height="14.15" fill="#32cd32"/><rect x="683.22" y="317.72" width="2.35" height="21.68" fill="#32cd32"/><rect x="686.15" y="308.94" width="2.35" height="30.46" fill="#32cd32"/><rect x="689.08" y="300.41" width="2.35" height="38.99" fill="#32cd32"/><rect x="692.01" y="299.28" width="2.35" height="40.12" fill="#32cd32"/><rect x="694.94" y="296.77" width="2.35" height="42.63" fill="#32cd32"/><rect x="697.87" y="298.27" width="2.35" height="41.13" fill="#32cd32"/><rect x="700.8" y="299.15" width="2.35" height="40.25" fill="#32cd32"/><rect x="703.73" y="295.14" width="2.35" height="44.26" fill="#32cd32"/><rect x="706.66" y="293.25" width="2.35" height="46.15" fill="#32cd32"/><rect x="709.59" y="299.28" width="2.35" height="40.12" fill="#32cd32"/><rect x="712.52" y="303.29" width="2.35" height="36.11" fill="#32cd32"/><rect x="715.45" y="298.02" width="2.35" height="41.38" fill="#32cd32"/><rect x="718.38" y="304.3" width="2.35" height="35.1" fill="#32cd32"/><rect x="721.31" y="308.06" width="2.35" height="31.34" fill="#32cd32"/><rect x="724.24" y="310.44" width="2.35" height="28.96" fill="#32cd32"/><rect x="727.17" y="309.82" width="2.35" height="29.58" fill="#32cd32"/><rect x="730.1" y="308.06" width="2.35" height="31.34" fill="#32cd32"/><rect x="733.03" y="307.68" width="2.35" height="31.72" fill="#32cd32"/><rect x="735.96" y="310.44" width="2.35" height="28.96" fill="#32cd32"/><rect x="738.89" y="307.28" width="2.35" height="32.12" fill="#32cd32"/><rect x="741.82" y="306.02" width="2.35" height="33.38" fill="#32cd32"/><rect x="744.75" y="305.02" width="2.35" height="34.38" fill="#32cd32"/><rect x="747.68" y="304.39" width="2.35" height="35.01" fill="#32cd32"/><rect x="750.61" y="305.27" width="2.35" height="34.13" fill="#32cd32"/><rect x="753.54" y="306.02" width="2.35" height="33.38" fill="#32cd32"/><rect x="756.47" y="307.15" width="2.35" height="32.25" fill="#32cd32"/><rect x="759.4" y="307.15" width="2.35" height="32.25" fill="#32cd32"/><rect x="762.33" y="306.02" width="2.35" height="33.38" fill="#32cd32"/><rect x="765.26" y="306.27" width="2.35" height="33.13" fill="#32cd32"/><rect x="768.19" y="305.27" width="2.35" height="34.13" fill="#32cd32"/><rect x="771.12" y="306.52" width="2.35" height="32.88" fill="#32cd32"/><rect x="774.05" y="305.4" width="2.35" height="34" fill="#32cd32"/><rect x="776.98" y="309.41" width="2.35" height="29.99" fill="#32cd32"/><rect x="779.91" y="327.6" width="2.35" height="11.8" fill="#32cd32"/><rect x="782.84" y="331.12" width="2.35" height="8.28" fill="#32cd32"/><rect x="785.77" y="328.23" width="2.35" height="11.17" fill="#32cd32"/><rect x="788.7" y="325.72" width="2.35" height="13.68" fill="#32cd32"/><rect x="791.63" y="324.22" width="2.35" height="15.18" fill="#32cd32"/><rect x="794.56" y="323.46" width="2.35" height="15.94" fill="#32cd32"/><rect x="797.49" y="331.62" width="2.35" height="7.78" fill="#32cd32"/><rect x="800.42" y="338.77" width="2.35" height="0.63" fill="#32cd32"/><rect x="803.35" y="338.8" width="2.35" height="4.86" fill="#ff4500"/><rect x="806.28" y="338.8" width="2.35" height="6.37" fill="#ff4500"/><rect x="809.21" y="338.8" width="2.35" height="7.37" fill="#ff4500"/><rect x="812.14" y="338.8" width="2.35" height="9.51" fill="#ff4500"/><rect x="815.07" y="338.8" width="2.35" height="14.9" fill="#ff4500"/><rect x="818" y="338.8" width="2.35" height="13.65" fill="#ff4500"/><rect x="820.93" y="338.8" width="2.35" height="14.27" fill="#ff4500"/><rect x="823.86" y="338.8" width="2.35" height="13.9" fill="#ff4500"/><rect x="826.79" y="338.8" width="2.35" height="17.29" fill="#ff4500"/></g>
<g id="line"><polyline fill="none" stroke="#2f9e3a" stroke-width="1.45" stroke-linejoin="round" stroke-linecap="round" points="7.51,398.05 10.27,399.06 14.04,402.19 16.55,402.44 19.68,401.31 22.82,401.57 25.58,403.2 28.47,401.06 31.35,402.19 34.36,399.06 37.25,405.33 40.39,398.05 43.52,400.94 46.03,407.84 49.17,411.85 52.06,406.84 54.82,404.45 57.95,405.33 60.71,404.45 63.85,405.58 66.74,402.57 69.5,415.37 72.63,440.21 84.3,427.29 87.06,427.91 89.95,430.17 92.71,433.94 95.59,421.64 98.48,412.23 101.49,410.98 104.38,410.35 107.14,407.59 110.4,409.72 113.16,413.86 116.05,417.25 119.06,414.74 121.94,395.92 124.7,384.25 127.88,383.31 130.77,384.82 133.53,387.58 136.54,390.84 139.55,393.35 142.31,392.35 145.2,392.6 148.21,393.23 151.09,395.11 154.11,397.12 156.99,397.62 159.88,397.37 162.89,396.11 165.77,397.12 168.66,398.87 171.67,406.4 174.56,391.09 177.44,381.68 180.45,377.92 183.34,377.54 186.23,378.3 189.24,380.43 192.12,382.31 195.01,381.68 198.02,383.94 201.03,386.7 203.92,385.45 206.93,381.31 209.81,389.59 212.7,381.06 215.59,377.92 218.6,376.66 221.48,377.54 224.37,382.94 227.38,409.29 230.27,389.84 233.28,384.19 236.16,391.09 239.05,405.52 242.06,408.66 244.95,420.58 247.83,423.47 251,424.68 253.76,425.31 256.65,424.31 259.79,425.18 262.55,421.8 265.43,422.17 268.44,420.79 271.33,418.66 274.22,419.29 277.23,419.91 280.24,412.64 283.25,415.52 286.39,418.41 289.27,411.76 292.03,413.26 294.92,413.39 297.68,413.26 300.82,409.25 303.7,402.1 306.71,400.84 309.6,396.08 312.48,393.82 315.37,392.94 318.38,395.82 321.27,396.33 324.28,393.57 327.16,392.31 330.3,390.68 333.06,391.06 335.95,393.82 338.83,396.45 341.84,397.96 344.73,396.7 347.49,391.93 350.38,396.08 353.26,399.21 356.27,389.55 359.16,400.84 362.05,403.23 365.06,402.98 367.94,381.65 370.83,380.39 373.88,381.43 376.77,381.17 379.65,383.06 382.66,384.06 385.55,385.31 388.44,384.31 391.45,386.82 394.33,390.21 397.22,389.96 400.23,390.58 403.12,393.35 406,391.21 409.01,392.47 411.9,408.15 414.91,417.56 417.8,399.37 420.68,382.81 423.57,379.92 426.58,379.92 429.47,381.55 432.48,385.57 435.36,401.63 438.25,405.64 441.26,403.13 444.15,399.99 447.03,397.74 450.04,397.74 452.93,403.13 455.81,403.76 458.83,400.62 461.71,397.86 464.6,396.86 467.61,396.61 470.49,397.49 473.38,398.11 476.39,399.99 479.28,403.76 482.16,410.66 485.17,415.05 488,422.31 491.01,425.69 494.02,425.19 496.91,427.7 499.92,428.58 502.81,424.82 505.69,421.68 508.7,419.55 511.59,420.42 514.47,420.68 517.49,423.94 520.37,425.44 523.38,423.18 526.27,421.43 529.15,420.68 532.04,421.43 535.05,419.8 537.94,410.39 540.82,412.02 543.83,414.4 546.72,418.17 549.73,422.06 552.62,420.8 555.5,420.17 558.51,418.92 561.4,422.68 564.29,413.9 567.3,421.68 570.18,423.18 573.19,419.8 576.08,406.62 578.97,403.49 581.85,397.84 584.86,396.33 587.75,395.33 590.63,392.82 593.65,393.82 596.53,388.05 599.42,390.69 602.43,389.31 605.31,387.43 608.25,389.06 611.14,386.92 614.02,393.45 617.03,386.3 619.92,383.41 622.81,382.53 625.82,383.79 628.7,385.29 631.59,385.54 634.6,385.04 637.49,383.66 640.37,383.66 643.38,384.66 646.27,387.17 649.15,389.06 652.17,391.94 655.05,388.81 658.06,397.21 660.95,398.09 663.83,388.43 666.85,385.04 669.73,385.29 672.74,382.53 675.63,384.66 678.51,393.45 681.4,397.21 684.41,407.25 687.3,417.29 690.18,423.94 693.19,429.21 696.08,433.97 699.09,430.21 701.98,426.45 704.86,427.7 707.87,430.21 710.76,423.56 713.77,419.8 716.66,430.71 719.67,424.82 722.55,418.92 725.51,416.44 728.39,417.82 731.28,418.45 734.29,419.32 737.17,414.31 740.06,415.18 743.07,414.68 745.96,416.82 748.84,417.44 751.85,416.82 754.74,418.7 757.63,420.2 760.64,419.7 763.52,418.7 766.41,418.7 769.42,420.33 772.31,419.95 775.44,422.09 778.33,416.82 781.34,392.73 784.23,389.21 787.11,393.35 790.12,396.11 793.01,397.37 796.02,396.11 798.91,392.1 801.79,385.82 804.68,382.06 807.69,380.43 810.57,379.17 813.59,378.3 816.6,374.41 819.48,375.03 822.49,375.03 825.38,374.78 828.39,372.27"/></g>
<rect x="8" y="192.6" width="1008" height="1" fill="#2a2e39"/>
<rect x="8" y="278.1" width="1008" height="1" fill="#2a2e39"/>
<rect x="8" y="362.9" width="1008" height="1" fill="#2a2e39"/>
<rect x="0" y="0" width="7.5" height="494" fill="#1e222d"/>
<rect x="967.5" y="8" width="48.5" height="440" fill="#000"/>
<rect x="967" y="192.6" width="49" height="1" fill="#2a2e39"/>
<rect x="967" y="278.1" width="49" height="1" fill="#2a2e39"/>
<rect x="967" y="362.9" width="49" height="1" fill="#2a2e39"/>
<rect x="966.25" y="7.6" width="1.5" height="460.4" fill="#9c9c9c"/>
<rect x="7.5" y="447.25" width="1008.9" height="1.5" fill="#9c9c9c"/>
<text transform="rotate(0.03 972.40 17.10)" x="972.40" y="17.10" textLength="28.40" lengthAdjust="spacingAndGlyphs" font-size="8.6" fill="#e2e2e2" stroke="#e2e2e2" stroke-width="0.15">3500.00</text>
<text transform="rotate(0.03 972.40 39.60)" x="972.40" y="39.60" textLength="28.40" lengthAdjust="spacingAndGlyphs" font-size="8.6" fill="#e2e2e2" stroke="#e2e2e2" stroke-width="0.15">3400.00</text>
<text transform="rotate(0.03 972.40 62.10)" x="972.40" y="62.10" textLength="28.40" lengthAdjust="spacingAndGlyphs" font-size="8.6" fill="#e2e2e2" stroke="#e2e2e2" stroke-width="0.15">3300.00</text>
<text transform="rotate(0.03 972.40 84.60)" x="972.40" y="84.60" textLength="28.40" lengthAdjust="spacingAndGlyphs" font-size="8.6" fill="#e2e2e2" stroke="#e2e2e2" stroke-width="0.15">3200.00</text>
<text transform="rotate(0.03 972.40 107.10)" x="972.40" y="107.10" textLength="28.40" lengthAdjust="spacingAndGlyphs" font-size="8.6" fill="#e2e2e2" stroke="#e2e2e2" stroke-width="0.15">3100.00</text>
<text transform="rotate(0.03 972.40 129.65)" x="972.40" y="129.65" textLength="28.40" lengthAdjust="spacingAndGlyphs" font-size="8.6" fill="#e2e2e2" stroke="#e2e2e2" stroke-width="0.15">3000.00</text>
<text transform="rotate(0.03 972.40 174.70)" x="972.40" y="174.70" textLength="28.40" lengthAdjust="spacingAndGlyphs" font-size="8.6" fill="#e2e2e2" stroke="#e2e2e2" stroke-width="0.15">2800.00</text>
<text transform="rotate(0.03 972.40 216.50)" x="972.40" y="216.50" textLength="9.00" lengthAdjust="spacingAndGlyphs" font-size="8.6" fill="#e2e2e2" stroke="#e2e2e2" stroke-width="0.15">6B</text>
<text transform="rotate(0.03 972.40 237.80)" x="972.40" y="237.80" textLength="9.00" lengthAdjust="spacingAndGlyphs" font-size="8.6" fill="#e2e2e2" stroke="#e2e2e2" stroke-width="0.15">4B</text>
<text transform="rotate(0.03 972.40 260.10)" x="972.40" y="260.10" textLength="9.00" lengthAdjust="spacingAndGlyphs" font-size="8.6" fill="#e2e2e2" stroke="#e2e2e2" stroke-width="0.15">2B</text>
<text transform="rotate(0.03 972.40 290.10)" x="972.40" y="290.10" textLength="24.00" lengthAdjust="spacingAndGlyphs" font-size="8.6" fill="#e2e2e2" stroke="#e2e2e2" stroke-width="0.15">20.000</text>
<text transform="rotate(0.03 972.40 316.50)" x="972.40" y="316.50" textLength="24.00" lengthAdjust="spacingAndGlyphs" font-size="8.6" fill="#e2e2e2" stroke="#e2e2e2" stroke-width="0.15">10.000</text>
<text transform="rotate(0.03 972.40 342.40)" x="972.40" y="342.40" textLength="19.60" lengthAdjust="spacingAndGlyphs" font-size="8.6" fill="#e2e2e2" stroke="#e2e2e2" stroke-width="0.15">0.000</text>
<text transform="rotate(0.03 972.40 392.10)" x="972.40" y="392.10" textLength="36.70" lengthAdjust="spacingAndGlyphs" font-size="8.6" fill="#e2e2e2" stroke="#e2e2e2" stroke-width="0.15">70.000000</text>
<text transform="rotate(0.03 972.40 419.10)" x="972.40" y="419.10" textLength="36.70" lengthAdjust="spacingAndGlyphs" font-size="8.6" fill="#e2e2e2" stroke="#e2e2e2" stroke-width="0.15">60.000000</text>
<text transform="rotate(0.03 972.40 447.00)" x="972.40" y="447.00" textLength="36.70" lengthAdjust="spacingAndGlyphs" font-size="8.6" fill="#e2e2e2" stroke="#e2e2e2" stroke-width="0.15">50.000000</text>
<rect x="966.3" y="145.9" width="37.9" height="11.8" rx="1" fill="#e60000"/>
<text transform="rotate(0.03 972.40 154.90)" x="972.40" y="154.90" textLength="28.40" lengthAdjust="spacingAndGlyphs" font-size="8.6" fill="#fff" stroke="#fff" stroke-width="0.15">2887.98</text>
<rect x="966.3" y="243.1" width="34.5" height="12.0" rx="1" fill="#f7525f"/>
<text transform="rotate(0.03 972.40 252.20)" x="972.40" y="252.20" textLength="24.00" lengthAdjust="spacingAndGlyphs" font-size="8.6" fill="#fff" stroke="#fff" stroke-width="0.15">2.635B</text>
<rect x="966.3" y="349.9" width="33.7" height="11.8" rx="1" fill="#ff4500"/>
<text transform="rotate(0.03 973.20 358.90)" x="973.20" y="358.90" textLength="23.10" lengthAdjust="spacingAndGlyphs" font-size="8.6" fill="#fff" stroke="#fff" stroke-width="0.15">−6.480</text>
<rect x="966.3" y="366.3" width="46.7" height="11.8" rx="1" fill="#2f9e3a"/>
<text transform="rotate(0.03 972.40 375.30)" x="972.40" y="375.30" textLength="36.70" lengthAdjust="spacingAndGlyphs" font-size="8.6" fill="#fff" stroke="#fff" stroke-width="0.15">76.015000</text>
<text transform="rotate(0.03 58.40 461.10)" x="58.40" y="461.10" textLength="4.40" lengthAdjust="spacingAndGlyphs" font-size="8.6" fill="#f2f2f2" stroke="#f2f2f2" stroke-width="0.35">9</text>
<text transform="rotate(0.03 126.70 461.10)" x="126.70" y="461.10" textLength="8.60" lengthAdjust="spacingAndGlyphs" font-size="8.6" fill="#f2f2f2" stroke="#f2f2f2" stroke-width="0.35">13</text>
<text transform="rotate(0.03 197.00 461.10)" x="197.00" y="461.10" textLength="8.60" lengthAdjust="spacingAndGlyphs" font-size="8.6" fill="#f2f2f2" stroke="#f2f2f2" stroke-width="0.35">17</text>
<text transform="rotate(0.03 267.20 461.10)" x="267.20" y="461.10" textLength="8.60" lengthAdjust="spacingAndGlyphs" font-size="8.6" fill="#f2f2f2" stroke="#f2f2f2" stroke-width="0.35">21</text>
<text transform="rotate(0.03 337.70 461.10)" x="337.70" y="461.10" textLength="8.60" lengthAdjust="spacingAndGlyphs" font-size="8.6" fill="#f2f2f2" stroke="#f2f2f2" stroke-width="0.35">25</text>
<text transform="rotate(0.03 393.75 461.10)" x="393.75" y="461.10" textLength="19.50" lengthAdjust="spacingAndGlyphs" font-size="8.6" fill="#f2f2f2" stroke="#f2f2f2" stroke-width="0.35">12:00</text>
<text transform="rotate(0.03 456.00 461.10)" x="456.00" y="461.10" textLength="18.00" lengthAdjust="spacingAndGlyphs" font-size="8.6" fill="#f2f2f2" stroke="#f2f2f2" stroke-width="0.6">2026</text>
<text transform="rotate(0.03 533.05 461.10)" x="533.05" y="461.10" textLength="4.40" lengthAdjust="spacingAndGlyphs" font-size="8.6" fill="#f2f2f2" stroke="#f2f2f2" stroke-width="0.35">5</text>
<text transform="rotate(0.03 603.05 461.10)" x="603.05" y="461.10" textLength="4.40" lengthAdjust="spacingAndGlyphs" font-size="8.6" fill="#f2f2f2" stroke="#f2f2f2" stroke-width="0.35">9</text>
<text transform="rotate(0.03 671.45 461.10)" x="671.45" y="461.10" textLength="8.60" lengthAdjust="spacingAndGlyphs" font-size="8.6" fill="#f2f2f2" stroke="#f2f2f2" stroke-width="0.35">13</text>
<text transform="rotate(0.03 741.95 461.10)" x="741.95" y="461.10" textLength="8.60" lengthAdjust="spacingAndGlyphs" font-size="8.6" fill="#f2f2f2" stroke="#f2f2f2" stroke-width="0.35">17</text>
<text transform="rotate(0.03 811.95 461.10)" x="811.95" y="461.10" textLength="8.60" lengthAdjust="spacingAndGlyphs" font-size="8.6" fill="#f2f2f2" stroke="#f2f2f2" stroke-width="0.35">21</text>
<text transform="rotate(0.03 882.70 461.10)" x="882.70" y="461.10" textLength="8.60" lengthAdjust="spacingAndGlyphs" font-size="8.6" fill="#f2f2f2" stroke="#f2f2f2" stroke-width="0.35">25</text>
<text transform="rotate(0.03 938.75 461.10)" x="938.75" y="461.10" textLength="19.50" lengthAdjust="spacingAndGlyphs" font-size="8.6" fill="#f2f2f2" stroke="#f2f2f2" stroke-width="0.35">12:00</text>
<text transform="rotate(0.03 13.25 21.80)" x="13.25" y="21.80" textLength="42.25" lengthAdjust="spacingAndGlyphs" font-size="8.8" fill="#f2f2f2" stroke="#f2f2f2" stroke-width="0.3">ETHEREUM</text>
<text transform="rotate(0.03 59.25 21.80)" x="59.25" y="21.80" textLength="2.75" lengthAdjust="spacingAndGlyphs" font-size="8.8" fill="#f2f2f2" stroke="#f2f2f2" stroke-width="0.3">/</text>
<text transform="rotate(0.03 65.75 21.80)" x="65.75" y="21.80" textLength="29.75" lengthAdjust="spacingAndGlyphs" font-size="8.8" fill="#f2f2f2" stroke="#f2f2f2" stroke-width="0.3">TETHER</text>
<text transform="rotate(0.03 98.60 21.80)" x="98.60" y="21.80" textLength="37.50" lengthAdjust="spacingAndGlyphs" font-size="8.8" fill="#f2f2f2" stroke="#f2f2f2" stroke-width="0.3">(USDⓈ-M</text>
<text transform="rotate(0.03 139.00 21.80)" x="139.00" y="21.80" textLength="19.60" lengthAdjust="spacingAndGlyphs" font-size="8.8" fill="#f2f2f2" stroke="#f2f2f2" stroke-width="0.3">Perp)</text>
<text transform="rotate(0.03 162.00 21.80)" x="162.00" y="21.80" textLength="87.90" lengthAdjust="spacingAndGlyphs" font-size="8.8" fill="#f2f2f2" stroke="#f2f2f2" stroke-width="0.3">&lt;hyblockcapital.com&gt;,</text>
<text transform="rotate(0.03 254.00 21.80)" x="254.00" y="21.80" textLength="12.10" lengthAdjust="spacingAndGlyphs" font-size="8.8" fill="#f2f2f2" stroke="#f2f2f2" stroke-width="0.3">4h,</text>
<text transform="rotate(0.03 269.50 21.80)" x="269.50" y="21.80" textLength="30.00" lengthAdjust="spacingAndGlyphs" font-size="8.8" fill="#f2f2f2" stroke="#f2f2f2" stroke-width="0.3">Binance</text>
<text transform="rotate(0.03 302.75 21.80)" x="302.75" y="21.80" textLength="33.75" lengthAdjust="spacingAndGlyphs" font-size="8.8" fill="#f2f2f2" stroke="#f2f2f2" stroke-width="0.3">USDⓈ-M</text>
<text transform="rotate(0.03 339.50 21.80)" x="339.50" y="21.80" textLength="16.00" lengthAdjust="spacingAndGlyphs" font-size="8.8" fill="#f2f2f2" stroke="#f2f2f2" stroke-width="0.3">Perp</text>
<text transform="rotate(0.03 361.90 21.80)" x="361.90" y="21.80" textLength="5.85" lengthAdjust="spacingAndGlyphs" font-size="8.8" fill="#f2f2f2" stroke="#f2f2f2" stroke-width="0.3">O</text>
<text transform="rotate(0.03 404.75 21.80)" x="404.75" y="21.80" textLength="5.25" lengthAdjust="spacingAndGlyphs" font-size="8.8" fill="#f2f2f2" stroke="#f2f2f2" stroke-width="0.3">H</text>
<text transform="rotate(0.03 446.90 21.80)" x="446.90" y="21.80" textLength="4.10" lengthAdjust="spacingAndGlyphs" font-size="8.8" fill="#f2f2f2" stroke="#f2f2f2" stroke-width="0.3">L</text>
<text transform="rotate(0.03 486.90 21.80)" x="486.90" y="21.80" textLength="5.35" lengthAdjust="spacingAndGlyphs" font-size="8.8" fill="#f2f2f2" stroke="#f2f2f2" stroke-width="0.3">C</text>
<text transform="rotate(0.03 368.50 21.80)" x="368.50" y="21.80" textLength="30.00" lengthAdjust="spacingAndGlyphs" font-size="8.8" fill="#cc0000" stroke="#cc0000" stroke-width="0.12">3001.22</text>
<text transform="rotate(0.03 410.60 21.80)" x="410.60" y="21.80" textLength="30.00" lengthAdjust="spacingAndGlyphs" font-size="8.8" fill="#cc0000" stroke="#cc0000" stroke-width="0.12">3003.92</text>
<text transform="rotate(0.03 451.50 21.80)" x="451.50" y="21.80" textLength="29.75" lengthAdjust="spacingAndGlyphs" font-size="8.8" fill="#cc0000" stroke="#cc0000" stroke-width="0.12">2885.82</text>
<text transform="rotate(0.03 492.90 21.80)" x="492.90" y="21.80" textLength="30.20" lengthAdjust="spacingAndGlyphs" font-size="8.8" fill="#cc0000" stroke="#cc0000" stroke-width="0.12">2887.98</text>
<text transform="rotate(0.03 529.40 21.80)" x="529.40" y="21.80" textLength="30.00" lengthAdjust="spacingAndGlyphs" font-size="8.8" fill="#cc0000" stroke="#cc0000" stroke-width="0.12">−113.24</text>
<text transform="rotate(0.03 562.75 21.80)" x="562.75" y="21.80" textLength="32.25" lengthAdjust="spacingAndGlyphs" font-size="8.8" fill="#cc0000" stroke="#cc0000" stroke-width="0.12">(−3.77%)</text>
<text transform="rotate(0.03 13.25 208.10)" x="13.25" y="208.10" textLength="28.50" lengthAdjust="spacingAndGlyphs" font-size="8.8" fill="#f2f2f2" stroke="#f2f2f2" stroke-width="0.3">Volume</text>
<text transform="rotate(0.03 47.75 208.10)" x="47.75" y="208.10" textLength="26.25" lengthAdjust="spacingAndGlyphs" font-size="8.8" fill="#e64d5a" stroke="#e64d5a" stroke-width="0.12">2.635B</text>
<text transform="rotate(0.03 13.60 293.10)" x="13.60" y="293.10" textLength="63.80" lengthAdjust="spacingAndGlyphs" font-size="8.8" fill="#f2f2f2" stroke="#f2f2f2" stroke-width="0.3">&lt;Hyblock&gt;Whale</text>
<text transform="rotate(0.03 81.10 293.10)" x="81.10" y="293.10" textLength="6.90" lengthAdjust="spacingAndGlyphs" font-size="8.8" fill="#f2f2f2" stroke="#f2f2f2" stroke-width="0.3">vs</text>
<text transform="rotate(0.03 91.75 293.10)" x="91.75" y="293.10" textLength="21.85" lengthAdjust="spacingAndGlyphs" font-size="8.8" fill="#f2f2f2" stroke="#f2f2f2" stroke-width="0.3">Retail</text>
<text transform="rotate(0.03 117.00 293.10)" x="117.00" y="293.10" textLength="20.00" lengthAdjust="spacingAndGlyphs" font-size="8.8" fill="#f2f2f2" stroke="#f2f2f2" stroke-width="0.3">Delta</text>
<text transform="rotate(0.03 141.00 293.10)" x="141.00" y="293.10" textLength="36.25" lengthAdjust="spacingAndGlyphs" font-size="8.8" fill="#f2f2f2" stroke="#f2f2f2" stroke-width="0.3">[Binance]</text>
<text transform="rotate(0.03 180.75 293.10)" x="180.75" y="293.10" textLength="4.75" lengthAdjust="spacingAndGlyphs" font-size="8.8" fill="#f2f2f2" stroke="#f2f2f2" stroke-width="0.3">(,</text>
<text transform="rotate(0.03 190.10 293.10)" x="190.10" y="293.10" textLength="1.90" lengthAdjust="spacingAndGlyphs" font-size="8.8" fill="#f2f2f2" stroke="#f2f2f2" stroke-width="0.3">,</text>
<text transform="rotate(0.03 196.00 293.10)" x="196.00" y="293.10" textLength="9.75" lengthAdjust="spacingAndGlyphs" font-size="8.8" fill="#f2f2f2" stroke="#f2f2f2" stroke-width="0.3">No</text>
<text transform="rotate(0.03 209.50 293.10)" x="209.50" y="293.10" textLength="20.60" lengthAdjust="spacingAndGlyphs" font-size="8.8" fill="#f2f2f2" stroke="#f2f2f2" stroke-width="0.3">Filter,</text>
<text transform="rotate(0.03 235.00 293.10)" x="235.00" y="293.10" textLength="2.00" lengthAdjust="spacingAndGlyphs" font-size="8.8" fill="#f2f2f2" stroke="#f2f2f2" stroke-width="0.3">,</text>
<text transform="rotate(0.03 240.90 293.10)" x="240.90" y="293.10" textLength="2.50" lengthAdjust="spacingAndGlyphs" font-size="8.8" fill="#f2f2f2" stroke="#f2f2f2" stroke-width="0.3">)</text>
<text transform="rotate(0.03 249.60 293.10)" x="249.60" y="293.10" textLength="25.65" lengthAdjust="spacingAndGlyphs" font-size="8.8" fill="#f04800" stroke="#f04800" stroke-width="0.12">−6.480</text>
<text transform="rotate(0.03 13.60 378.10)" x="13.60" y="378.10" textLength="56.30" lengthAdjust="spacingAndGlyphs" font-size="8.8" fill="#f2f2f2" stroke="#f2f2f2" stroke-width="0.3">&lt;Hyblock&gt;True</text>
<text transform="rotate(0.03 73.60 378.10)" x="73.60" y="378.10" textLength="21.90" lengthAdjust="spacingAndGlyphs" font-size="8.8" fill="#f2f2f2" stroke="#f2f2f2" stroke-width="0.3">Retail</text>
<text transform="rotate(0.03 99.25 378.10)" x="99.25" y="378.10" textLength="20.65" lengthAdjust="spacingAndGlyphs" font-size="8.8" fill="#f2f2f2" stroke="#f2f2f2" stroke-width="0.3">Longs</text>
<text transform="rotate(0.03 123.60 378.10)" x="123.60" y="378.10" textLength="4.65" lengthAdjust="spacingAndGlyphs" font-size="8.8" fill="#f2f2f2" stroke="#f2f2f2" stroke-width="0.3">&amp;</text>
<text transform="rotate(0.03 132.50 378.10)" x="132.50" y="378.10" textLength="24.00" lengthAdjust="spacingAndGlyphs" font-size="8.8" fill="#f2f2f2" stroke="#f2f2f2" stroke-width="0.3">Shorts</text>
<text transform="rotate(0.03 159.75 378.10)" x="159.75" y="378.10" textLength="34.65" lengthAdjust="spacingAndGlyphs" font-size="8.8" fill="#f2f2f2" stroke="#f2f2f2" stroke-width="0.3">Accounts</text>
<text transform="rotate(0.03 198.10 378.10)" x="198.10" y="378.10" textLength="36.30" lengthAdjust="spacingAndGlyphs" font-size="8.8" fill="#f2f2f2" stroke="#f2f2f2" stroke-width="0.3">[Binance]</text>
<text transform="rotate(0.03 238.00 378.10)" x="238.00" y="378.10" textLength="5.25" lengthAdjust="spacingAndGlyphs" font-size="8.8" fill="#f2f2f2" stroke="#f2f2f2" stroke-width="0.3">(,</text>
<text transform="rotate(0.03 247.00 378.10)" x="247.00" y="378.10" textLength="2.00" lengthAdjust="spacingAndGlyphs" font-size="8.8" fill="#f2f2f2" stroke="#f2f2f2" stroke-width="0.3">,</text>
<text transform="rotate(0.03 253.25 378.10)" x="253.25" y="378.10" textLength="1.75" lengthAdjust="spacingAndGlyphs" font-size="8.8" fill="#f2f2f2" stroke="#f2f2f2" stroke-width="0.3">,</text>
<text transform="rotate(0.03 258.90 378.10)" x="258.90" y="378.10" textLength="10.00" lengthAdjust="spacingAndGlyphs" font-size="8.8" fill="#f2f2f2" stroke="#f2f2f2" stroke-width="0.3">No</text>
<text transform="rotate(0.03 272.25 378.10)" x="272.25" y="378.10" textLength="21.65" lengthAdjust="spacingAndGlyphs" font-size="8.8" fill="#f2f2f2" stroke="#f2f2f2" stroke-width="0.3">Filter,</text>
<text transform="rotate(0.03 298.90 378.10)" x="298.90" y="378.10" textLength="2.10" lengthAdjust="spacingAndGlyphs" font-size="8.8" fill="#f2f2f2" stroke="#f2f2f2" stroke-width="0.3">,</text>
<text transform="rotate(0.03 304.25 378.10)" x="304.25" y="378.10" textLength="2.50" lengthAdjust="spacingAndGlyphs" font-size="8.8" fill="#f2f2f2" stroke="#f2f2f2" stroke-width="0.3">)</text>
<text transform="rotate(0.03 312.60 378.10)" x="312.60" y="378.10" textLength="39.40" lengthAdjust="spacingAndGlyphs" font-size="8.8" fill="#2f9e33" stroke="#2f9e33" stroke-width="0.12">76.015000</text>
<g fill="#d1d4dc"><path d="M7,477.1h7.2v7h-4.2v-3.8h-3z"/><circle cx="16" cy="478.6" r="1.45"/><path d="M18,477.1h3.8l-3,7h-3.8z"/></g>
<text transform="rotate(0.03 24.6 484.2)" x="24.6" y="484.2" textLength="51.1" lengthAdjust="spacingAndGlyphs" font-size="9.8" fill="#d1d4dc" stroke="#d1d4dc" stroke-width="0.3">TradingView</text>
</svg>
</body></html>
